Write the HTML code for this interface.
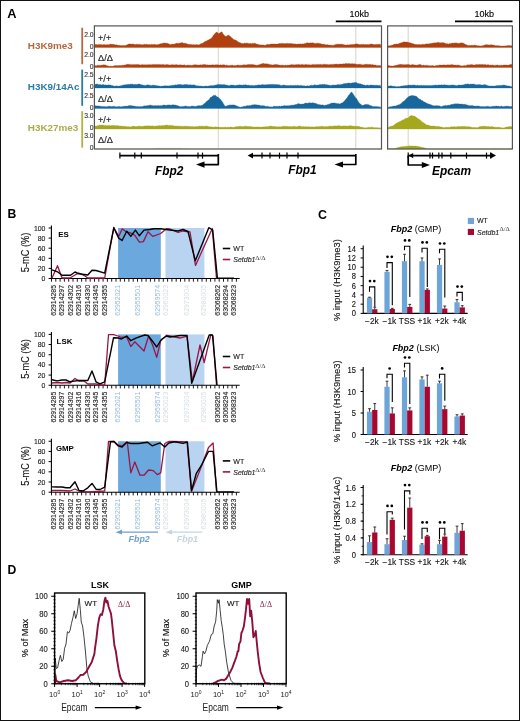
<!DOCTYPE html>
<html><head><meta charset="utf-8"><title>Figure</title><style>
html,body{margin:0;padding:0;background:#fff;}
body{width:520px;height:721px;overflow:hidden;position:relative;}
svg{display:block;position:absolute;left:0;top:0;font-family:"Liberation Sans", sans-serif;filter:blur(0.3px);}
.frame{position:absolute;left:0;top:0;width:518px;height:719px;border:1px solid #121212;}
</style></head><body>
<svg width="520" height="721" viewBox="0 0 520 721">
<rect x="0" y="0" width="520" height="721" fill="#fff"/>
<text x="7.20" y="17.50" font-size="12.8" fill="#000"  text-anchor="start" font-weight="bold" font-style="normal" >A</text>
<line x1="335.80" y1="21.40" x2="381.50" y2="21.40" stroke="#000" stroke-width="1.6" />
<text x="359.20" y="17.40" font-size="9" fill="#000" stroke="#000" stroke-width="0.12" text-anchor="middle" font-weight="normal" font-style="normal" >10kb</text>
<line x1="455.00" y1="21.40" x2="512.50" y2="21.40" stroke="#000" stroke-width="1.6" />
<text x="484.20" y="17.40" font-size="9" fill="#000" stroke="#000" stroke-width="0.12" text-anchor="middle" font-weight="normal" font-style="normal" >10kb</text>
<line x1="218.30" y1="26.50" x2="218.30" y2="148.50" stroke="#cfc8b8" stroke-width="0.8" />
<line x1="355.80" y1="26.50" x2="355.80" y2="148.50" stroke="#cfc8b8" stroke-width="0.8" />
<line x1="408.20" y1="26.50" x2="408.20" y2="148.50" stroke="#cfc8b8" stroke-width="0.8" />
<path d="M94.8,47.5 L94.8,44.3 L95.6,44.4 L96.4,44.5 L97.2,44.7 L98.0,44.7 L98.8,44.4 L99.6,44.4 L100.4,44.6 L101.2,44.5 L102.0,44.8 L102.8,44.8 L103.6,44.6 L104.4,44.6 L105.2,44.7 L106.0,44.8 L106.8,44.7 L107.6,44.4 L108.4,44.7 L109.2,44.4 L110.0,44.3 L110.8,44.1 L111.6,44.2 L112.4,44.2 L113.2,44.3 L114.0,44.5 L114.8,44.6 L115.6,45.0 L116.4,44.8 L117.2,44.9 L118.0,45.2 L118.8,45.3 L119.6,45.3 L120.4,45.5 L121.2,45.6 L122.0,45.6 L122.8,45.5 L123.6,45.4 L124.4,45.4 L125.2,45.4 L126.0,45.2 L126.8,45.0 L127.6,44.5 L128.4,44.1 L129.2,44.0 L130.0,43.9 L130.8,43.9 L131.6,44.2 L132.4,44.0 L133.2,44.0 L134.0,44.3 L134.8,44.5 L135.6,44.6 L136.4,44.2 L137.2,44.3 L138.0,44.4 L138.8,44.2 L139.6,44.3 L140.4,44.6 L141.2,44.7 L142.0,44.5 L142.8,44.7 L143.6,44.6 L144.4,44.3 L145.2,44.3 L146.0,44.4 L146.8,44.3 L147.6,44.6 L148.4,44.5 L149.2,44.4 L150.0,44.5 L150.8,44.7 L151.6,44.3 L152.4,44.4 L153.2,44.6 L154.0,44.5 L154.8,44.3 L155.6,44.6 L156.4,44.8 L157.2,44.7 L158.0,44.3 L158.8,44.4 L159.6,44.0 L160.4,43.8 L161.2,43.6 L162.0,43.7 L162.8,43.2 L163.6,43.0 L164.4,43.0 L165.2,43.2 L166.0,43.1 L166.8,43.2 L167.6,43.3 L168.4,43.7 L169.2,43.9 L170.0,44.4 L170.8,44.6 L171.6,44.2 L172.4,44.1 L173.2,44.3 L174.0,43.9 L174.8,44.0 L175.6,43.6 L176.4,43.3 L177.2,43.3 L178.0,43.3 L178.8,43.4 L179.6,42.9 L180.4,43.1 L181.2,42.8 L182.0,42.6 L182.8,42.8 L183.6,43.3 L184.4,43.2 L185.2,43.2 L186.0,43.5 L186.8,43.8 L187.6,44.1 L188.4,44.3 L189.2,44.5 L190.0,44.3 L190.8,44.4 L191.6,44.6 L192.4,44.8 L193.2,44.5 L194.0,44.7 L194.8,44.7 L195.6,44.8 L196.4,44.5 L197.2,44.4 L198.0,44.9 L198.8,44.8 L199.6,44.5 L200.4,43.9 L201.2,43.5 L202.0,43.4 L202.8,43.1 L203.6,42.5 L204.4,41.9 L205.2,41.3 L206.0,41.2 L206.8,40.7 L207.6,40.3 L208.4,40.1 L209.2,39.3 L210.0,39.2 L210.8,38.6 L211.6,38.0 L212.4,37.0 L213.2,35.4 L214.0,34.8 L214.8,33.6 L215.6,32.9 L216.4,32.1 L217.2,32.2 L218.0,33.3 L218.8,33.8 L219.6,32.9 L220.4,32.5 L221.2,32.0 L222.0,31.7 L222.8,33.4 L223.6,34.5 L224.4,35.5 L225.2,36.0 L226.0,36.4 L226.8,36.0 L227.6,35.6 L228.4,35.1 L229.2,35.4 L230.0,36.2 L230.8,36.8 L231.6,37.8 L232.4,38.3 L233.2,38.9 L234.0,39.5 L234.8,39.9 L235.6,39.9 L236.4,40.5 L237.2,40.9 L238.0,41.7 L238.8,42.3 L239.6,42.5 L240.4,42.7 L241.2,43.4 L242.0,43.2 L242.8,43.4 L243.6,43.5 L244.4,43.1 L245.2,43.3 L246.0,43.3 L246.8,43.0 L247.6,43.2 L248.4,43.5 L249.2,43.6 L250.0,43.6 L250.8,43.4 L251.6,43.7 L252.4,43.3 L253.2,43.5 L254.0,43.2 L254.8,43.2 L255.6,43.6 L256.4,44.0 L257.2,44.1 L258.0,44.4 L258.8,44.4 L259.6,44.8 L260.4,45.1 L261.2,44.8 L262.0,45.0 L262.8,45.0 L263.6,45.1 L264.4,45.2 L265.2,45.3 L266.0,44.9 L266.8,44.5 L267.6,44.3 L268.4,44.6 L269.2,44.6 L270.0,44.3 L270.8,43.9 L271.6,43.9 L272.4,43.9 L273.2,43.9 L274.0,44.1 L274.8,44.0 L275.6,44.0 L276.4,44.1 L277.2,44.1 L278.0,44.0 L278.8,43.5 L279.6,43.6 L280.4,43.5 L281.2,43.4 L282.0,43.2 L282.8,43.4 L283.6,43.5 L284.4,43.6 L285.2,43.7 L286.0,43.4 L286.8,43.2 L287.6,43.5 L288.4,43.6 L289.2,43.5 L290.0,43.5 L290.8,43.4 L291.6,43.6 L292.4,43.8 L293.2,43.8 L294.0,44.0 L294.8,43.8 L295.6,44.1 L296.4,44.2 L297.2,44.0 L298.0,44.1 L298.8,43.9 L299.6,44.0 L300.4,43.8 L301.2,44.1 L302.0,44.0 L302.8,43.7 L303.6,43.9 L304.4,43.4 L305.2,43.5 L306.0,43.2 L306.8,42.8 L307.6,42.7 L308.4,42.9 L309.2,43.1 L310.0,43.0 L310.8,42.7 L311.6,42.9 L312.4,42.7 L313.2,43.1 L314.0,42.9 L314.8,43.4 L315.6,43.5 L316.4,43.2 L317.2,43.2 L318.0,43.2 L318.8,43.3 L319.6,43.4 L320.4,43.6 L321.2,44.0 L322.0,44.0 L322.8,44.3 L323.6,44.2 L324.4,44.2 L325.2,44.5 L326.0,44.9 L326.8,44.6 L327.6,44.7 L328.4,44.9 L329.2,45.1 L330.0,45.0 L330.8,45.2 L331.6,45.3 L332.4,45.2 L333.2,45.2 L334.0,45.2 L334.8,44.7 L335.6,44.4 L336.4,44.2 L337.2,44.2 L338.0,44.1 L338.8,44.2 L339.6,44.3 L340.4,44.3 L341.2,44.1 L342.0,44.3 L342.8,44.5 L343.6,44.5 L344.4,44.8 L345.2,45.1 L346.0,45.0 L346.8,45.0 L347.6,44.8 L348.4,44.9 L349.2,44.7 L350.0,44.5 L350.8,44.7 L351.6,44.5 L352.4,44.4 L353.2,44.5 L354.0,44.3 L354.8,44.2 L355.6,43.9 L356.4,43.8 L357.2,44.1 L358.0,44.1 L358.8,44.4 L359.6,44.6 L360.4,44.5 L361.2,44.3 L362.0,44.6 L362.8,44.4 L363.6,44.3 L364.4,44.6 L365.2,44.5 L366.0,44.4 L366.8,44.6 L367.6,44.5 L368.4,44.4 L369.2,44.4 L370.0,44.2 L370.8,44.1 L371.6,44.0 L372.4,44.1 L373.2,44.4 L374.0,44.5 L374.8,44.6 L375.6,44.4 L376.4,44.2 L377.2,44.5 L378.0,44.3 L378.8,44.2 L379.6,44.3 L380.4,44.3 L381.2,47.5 Z" fill="#b0400f" stroke="#b0400f" stroke-width="0.3"/>
<path d="M388.0,47.5 L388.0,45.9 L388.8,45.8 L389.6,45.8 L390.4,45.6 L391.2,45.4 L392.0,45.1 L392.8,45.1 L393.6,44.5 L394.4,44.1 L395.2,44.3 L396.0,44.0 L396.8,43.9 L397.6,43.9 L398.4,43.8 L399.2,43.5 L400.0,43.1 L400.8,42.9 L401.6,42.6 L402.4,42.6 L403.2,42.1 L404.0,41.7 L404.8,42.0 L405.6,42.1 L406.4,42.0 L407.2,42.1 L408.0,42.3 L408.8,42.6 L409.6,42.7 L410.4,42.7 L411.2,43.2 L412.0,43.2 L412.8,43.7 L413.6,43.7 L414.4,44.2 L415.2,44.2 L416.0,44.5 L416.8,44.6 L417.6,44.6 L418.4,44.5 L419.2,44.5 L420.0,44.6 L420.8,44.7 L421.6,44.6 L422.4,44.3 L423.2,44.3 L424.0,44.6 L424.8,44.3 L425.6,44.1 L426.4,43.8 L427.2,44.0 L428.0,43.7 L428.8,43.9 L429.6,43.6 L430.4,43.5 L431.2,43.5 L432.0,42.9 L432.8,43.2 L433.6,43.0 L434.4,42.7 L435.2,42.8 L436.0,42.9 L436.8,42.5 L437.6,42.5 L438.4,42.3 L439.2,42.7 L440.0,42.7 L440.8,42.8 L441.6,42.5 L442.4,42.8 L443.2,42.6 L444.0,43.1 L444.8,43.0 L445.6,43.5 L446.4,43.7 L447.2,43.6 L448.0,44.0 L448.8,43.9 L449.6,43.5 L450.4,43.4 L451.2,43.5 L452.0,42.9 L452.8,43.1 L453.6,43.2 L454.4,43.1 L455.2,42.9 L456.0,42.8 L456.8,43.1 L457.6,43.2 L458.4,43.5 L459.2,43.3 L460.0,43.1 L460.8,42.9 L461.6,42.7 L462.4,42.9 L463.2,43.1 L464.0,43.5 L464.8,44.0 L465.6,44.6 L466.4,44.7 L467.2,45.1 L468.0,45.5 L468.8,45.5 L469.6,45.2 L470.4,45.5 L471.2,45.3 L472.0,45.3 L472.8,45.2 L473.6,45.4 L474.4,45.0 L475.2,45.3 L476.0,45.3 L476.8,45.5 L477.6,45.8 L478.4,45.7 L479.2,45.8 L480.0,45.9 L480.8,45.9 L481.6,45.8 L482.4,45.8 L483.2,45.4 L484.0,45.3 L484.8,44.9 L485.6,44.7 L486.4,44.5 L487.2,44.8 L488.0,44.8 L488.8,44.9 L489.6,44.9 L490.4,44.8 L491.2,44.7 L492.0,44.8 L492.8,45.1 L493.6,45.1 L494.4,45.2 L495.2,45.5 L496.0,45.7 L496.8,45.6 L497.6,45.8 L498.4,45.6 L499.2,45.8 L500.0,46.0 L500.8,46.0 L501.6,46.1 L502.4,46.1 L503.2,45.9 L504.0,45.9 L504.8,45.9 L505.6,45.8 L506.4,45.9 L507.2,45.6 L508.0,45.4 L508.8,45.4 L509.6,45.6 L510.4,45.7 L511.2,45.6 L512.0,45.9 L512.0,47.5 Z" fill="#b0400f" stroke="#b0400f" stroke-width="0.3"/>
<path d="M94.8,67.5 L94.8,65.5 L95.6,65.7 L96.4,65.7 L97.2,65.4 L98.0,65.1 L98.8,65.4 L99.6,65.2 L100.4,65.4 L101.2,65.1 L102.0,65.2 L102.8,64.9 L103.6,64.7 L104.4,64.9 L105.2,64.8 L106.0,65.3 L106.8,65.7 L107.6,65.7 L108.4,66.1 L109.2,66.3 L110.0,66.2 L110.8,66.0 L111.6,66.2 L112.4,66.3 L113.2,65.9 L114.0,66.0 L114.8,65.6 L115.6,65.5 L116.4,65.6 L117.2,65.7 L118.0,65.6 L118.8,65.5 L119.6,65.5 L120.4,65.5 L121.2,65.5 L122.0,65.2 L122.8,65.3 L123.6,65.2 L124.4,64.9 L125.2,64.9 L126.0,64.8 L126.8,64.3 L127.6,64.3 L128.4,64.3 L129.2,64.6 L130.0,64.5 L130.8,64.4 L131.6,64.7 L132.4,64.5 L133.2,64.5 L134.0,64.7 L134.8,64.6 L135.6,64.6 L136.4,64.5 L137.2,64.6 L138.0,64.5 L138.8,64.4 L139.6,64.8 L140.4,65.0 L141.2,64.7 L142.0,64.4 L142.8,64.7 L143.6,64.7 L144.4,64.7 L145.2,64.8 L146.0,64.8 L146.8,64.8 L147.6,64.8 L148.4,64.6 L149.2,64.7 L150.0,64.7 L150.8,64.5 L151.6,64.8 L152.4,64.6 L153.2,64.4 L154.0,64.5 L154.8,64.6 L155.6,64.4 L156.4,64.5 L157.2,64.6 L158.0,64.6 L158.8,64.4 L159.6,64.6 L160.4,64.6 L161.2,64.7 L162.0,64.4 L162.8,64.6 L163.6,64.4 L164.4,64.7 L165.2,64.8 L166.0,64.7 L166.8,64.5 L167.6,64.6 L168.4,64.8 L169.2,65.0 L170.0,64.8 L170.8,65.0 L171.6,64.7 L172.4,64.5 L173.2,64.8 L174.0,64.9 L174.8,64.7 L175.6,64.7 L176.4,64.6 L177.2,64.8 L178.0,65.0 L178.8,65.0 L179.6,64.7 L180.4,64.8 L181.2,64.9 L182.0,64.9 L182.8,64.9 L183.6,65.0 L184.4,64.8 L185.2,65.2 L186.0,65.5 L186.8,65.2 L187.6,65.1 L188.4,65.0 L189.2,65.3 L190.0,65.2 L190.8,65.1 L191.6,65.4 L192.4,65.2 L193.2,65.0 L194.0,64.8 L194.8,64.8 L195.6,64.8 L196.4,64.8 L197.2,64.9 L198.0,65.1 L198.8,64.9 L199.6,65.0 L200.4,64.7 L201.2,65.0 L202.0,64.7 L202.8,64.7 L203.6,64.6 L204.4,64.5 L205.2,64.5 L206.0,64.7 L206.8,65.1 L207.6,64.8 L208.4,65.1 L209.2,65.1 L210.0,64.9 L210.8,64.9 L211.6,64.9 L212.4,64.7 L213.2,64.7 L214.0,64.9 L214.8,65.0 L215.6,64.7 L216.4,64.8 L217.2,64.7 L218.0,64.8 L218.8,65.0 L219.6,65.0 L220.4,64.8 L221.2,65.1 L222.0,64.9 L222.8,64.8 L223.6,64.8 L224.4,64.8 L225.2,65.3 L226.0,65.2 L226.8,65.0 L227.6,65.4 L228.4,65.5 L229.2,65.5 L230.0,65.4 L230.8,65.3 L231.6,65.3 L232.4,65.1 L233.2,65.4 L234.0,65.6 L234.8,65.6 L235.6,65.6 L236.4,65.6 L237.2,65.1 L238.0,64.9 L238.8,65.2 L239.6,65.2 L240.4,65.2 L241.2,65.2 L242.0,65.2 L242.8,64.9 L243.6,64.8 L244.4,64.8 L245.2,64.9 L246.0,64.8 L246.8,64.9 L247.6,64.6 L248.4,64.4 L249.2,64.4 L250.0,64.6 L250.8,64.6 L251.6,64.6 L252.4,64.5 L253.2,64.5 L254.0,64.8 L254.8,64.9 L255.6,65.0 L256.4,65.2 L257.2,65.2 L258.0,65.1 L258.8,64.8 L259.6,64.6 L260.4,64.2 L261.2,63.9 L262.0,63.7 L262.8,63.5 L263.6,63.3 L264.4,63.7 L265.2,63.7 L266.0,63.9 L266.8,63.8 L267.6,63.8 L268.4,64.2 L269.2,64.2 L270.0,64.4 L270.8,64.8 L271.6,64.8 L272.4,65.1 L273.2,64.8 L274.0,64.7 L274.8,64.6 L275.6,64.6 L276.4,64.6 L277.2,64.6 L278.0,64.7 L278.8,65.1 L279.6,65.0 L280.4,65.2 L281.2,65.3 L282.0,65.0 L282.8,65.2 L283.6,65.3 L284.4,65.4 L285.2,65.0 L286.0,65.2 L286.8,65.4 L287.6,65.1 L288.4,65.3 L289.2,65.0 L290.0,64.9 L290.8,64.8 L291.6,64.6 L292.4,64.7 L293.2,64.6 L294.0,65.0 L294.8,64.7 L295.6,64.7 L296.4,64.5 L297.2,64.8 L298.0,64.5 L298.8,64.3 L299.6,64.7 L300.4,64.7 L301.2,64.6 L302.0,64.4 L302.8,64.6 L303.6,64.8 L304.4,64.8 L305.2,64.6 L306.0,64.5 L306.8,64.6 L307.6,64.7 L308.4,64.7 L309.2,64.7 L310.0,64.7 L310.8,64.9 L311.6,64.8 L312.4,64.4 L313.2,64.6 L314.0,64.5 L314.8,64.7 L315.6,64.6 L316.4,64.4 L317.2,64.4 L318.0,64.5 L318.8,64.5 L319.6,64.5 L320.4,64.3 L321.2,64.6 L322.0,64.7 L322.8,64.4 L323.6,64.2 L324.4,64.3 L325.2,64.4 L326.0,64.3 L326.8,64.5 L327.6,64.6 L328.4,64.7 L329.2,64.5 L330.0,64.6 L330.8,64.6 L331.6,64.4 L332.4,64.2 L333.2,64.4 L334.0,64.2 L334.8,64.3 L335.6,64.1 L336.4,64.1 L337.2,64.2 L338.0,64.2 L338.8,64.3 L339.6,64.1 L340.4,64.0 L341.2,64.1 L342.0,64.0 L342.8,64.0 L343.6,63.7 L344.4,63.9 L345.2,63.5 L346.0,63.6 L346.8,63.6 L347.6,63.7 L348.4,63.6 L349.2,63.5 L350.0,63.7 L350.8,63.8 L351.6,63.7 L352.4,63.6 L353.2,63.9 L354.0,63.8 L354.8,63.7 L355.6,64.0 L356.4,64.3 L357.2,64.5 L358.0,64.3 L358.8,64.3 L359.6,64.2 L360.4,64.2 L361.2,64.5 L362.0,64.7 L362.8,64.8 L363.6,64.8 L364.4,64.6 L365.2,64.3 L366.0,64.2 L366.8,64.4 L367.6,64.2 L368.4,64.4 L369.2,64.5 L370.0,64.3 L370.8,64.6 L371.6,64.8 L372.4,64.6 L373.2,64.8 L374.0,65.0 L374.8,65.0 L375.6,65.0 L376.4,65.4 L377.2,65.5 L378.0,65.5 L378.8,65.4 L379.6,65.5 L380.4,65.3 L381.2,67.5 Z" fill="#b0400f" stroke="#b0400f" stroke-width="0.3"/>
<path d="M388.0,67.5 L388.0,65.5 L388.8,65.5 L389.6,65.7 L390.4,65.9 L391.2,65.9 L392.0,65.9 L392.8,66.0 L393.6,65.9 L394.4,65.5 L395.2,65.6 L396.0,65.5 L396.8,65.1 L397.6,64.9 L398.4,64.7 L399.2,64.6 L400.0,64.6 L400.8,64.3 L401.6,64.5 L402.4,64.6 L403.2,64.7 L404.0,64.5 L404.8,64.7 L405.6,64.7 L406.4,64.5 L407.2,64.6 L408.0,64.6 L408.8,64.4 L409.6,64.7 L410.4,64.9 L411.2,64.9 L412.0,64.6 L412.8,64.6 L413.6,64.8 L414.4,64.9 L415.2,65.0 L416.0,65.0 L416.8,65.2 L417.6,64.9 L418.4,64.7 L419.2,64.5 L420.0,64.6 L420.8,64.6 L421.6,65.2 L422.4,65.4 L423.2,65.1 L424.0,65.2 L424.8,65.4 L425.6,65.2 L426.4,65.3 L427.2,65.2 L428.0,65.5 L428.8,65.7 L429.6,65.6 L430.4,65.8 L431.2,65.7 L432.0,65.4 L432.8,65.5 L433.6,65.8 L434.4,65.9 L435.2,65.8 L436.0,65.4 L436.8,65.4 L437.6,65.3 L438.4,65.4 L439.2,64.9 L440.0,64.9 L440.8,65.0 L441.6,65.1 L442.4,65.1 L443.2,65.1 L444.0,64.8 L444.8,65.0 L445.6,65.1 L446.4,64.9 L447.2,65.0 L448.0,64.6 L448.8,64.9 L449.6,64.9 L450.4,64.7 L451.2,64.8 L452.0,64.5 L452.8,64.7 L453.6,64.9 L454.4,64.9 L455.2,65.1 L456.0,65.1 L456.8,65.2 L457.6,65.0 L458.4,65.0 L459.2,65.2 L460.0,65.6 L460.8,65.8 L461.6,65.8 L462.4,65.9 L463.2,65.8 L464.0,65.4 L464.8,65.6 L465.6,65.7 L466.4,65.2 L467.2,65.1 L468.0,64.8 L468.8,64.9 L469.6,64.7 L470.4,64.7 L471.2,64.6 L472.0,64.6 L472.8,64.8 L473.6,65.0 L474.4,65.1 L475.2,64.8 L476.0,64.6 L476.8,64.4 L477.6,64.7 L478.4,64.6 L479.2,64.5 L480.0,64.5 L480.8,64.4 L481.6,64.5 L482.4,64.5 L483.2,64.5 L484.0,64.7 L484.8,64.5 L485.6,64.4 L486.4,64.9 L487.2,64.7 L488.0,64.7 L488.8,64.8 L489.6,65.2 L490.4,64.9 L491.2,65.2 L492.0,64.9 L492.8,64.9 L493.6,65.3 L494.4,65.4 L495.2,65.2 L496.0,65.2 L496.8,65.0 L497.6,64.9 L498.4,65.2 L499.2,65.5 L500.0,65.1 L500.8,65.4 L501.6,65.1 L502.4,65.4 L503.2,65.1 L504.0,65.0 L504.8,64.9 L505.6,65.1 L506.4,64.9 L507.2,65.2 L508.0,65.1 L508.8,65.1 L509.6,64.7 L510.4,64.5 L511.2,64.5 L512.0,64.5 L512.0,67.5 Z" fill="#b0400f" stroke="#b0400f" stroke-width="0.3"/>
<path d="M94.8,88.0 L94.8,84.5 L95.6,84.3 L96.4,84.1 L97.2,84.0 L98.0,84.4 L98.8,84.6 L99.6,84.6 L100.4,84.5 L101.2,84.9 L102.0,84.7 L102.8,84.6 L103.6,84.6 L104.4,85.1 L105.2,84.8 L106.0,85.1 L106.8,85.1 L107.6,85.0 L108.4,84.8 L109.2,85.0 L110.0,84.9 L110.8,85.1 L111.6,85.4 L112.4,85.6 L113.2,85.8 L114.0,86.1 L114.8,86.2 L115.6,86.0 L116.4,85.7 L117.2,86.1 L118.0,86.3 L118.8,85.9 L119.6,85.9 L120.4,85.8 L121.2,85.8 L122.0,85.5 L122.8,85.1 L123.6,84.9 L124.4,84.8 L125.2,84.9 L126.0,84.4 L126.8,84.6 L127.6,84.5 L128.4,84.3 L129.2,84.5 L130.0,84.3 L130.8,84.1 L131.6,84.2 L132.4,84.1 L133.2,84.5 L134.0,84.5 L134.8,84.6 L135.6,84.3 L136.4,84.4 L137.2,84.4 L138.0,84.1 L138.8,84.1 L139.6,84.1 L140.4,84.5 L141.2,84.7 L142.0,84.8 L142.8,85.0 L143.6,85.2 L144.4,85.2 L145.2,85.4 L146.0,85.3 L146.8,85.0 L147.6,84.8 L148.4,84.9 L149.2,85.0 L150.0,85.2 L150.8,85.4 L151.6,85.4 L152.4,85.2 L153.2,85.1 L154.0,85.3 L154.8,85.3 L155.6,85.4 L156.4,85.5 L157.2,85.7 L158.0,85.7 L158.8,86.0 L159.6,86.0 L160.4,86.2 L161.2,86.2 L162.0,86.0 L162.8,85.9 L163.6,86.1 L164.4,85.7 L165.2,85.7 L166.0,85.7 L166.8,86.0 L167.6,85.8 L168.4,85.9 L169.2,85.7 L170.0,85.7 L170.8,85.4 L171.6,85.4 L172.4,85.2 L173.2,85.3 L174.0,85.2 L174.8,85.0 L175.6,84.8 L176.4,85.0 L177.2,84.7 L178.0,84.6 L178.8,84.6 L179.6,84.5 L180.4,84.4 L181.2,84.6 L182.0,84.7 L182.8,84.9 L183.6,84.7 L184.4,84.5 L185.2,84.6 L186.0,84.6 L186.8,84.6 L187.6,84.6 L188.4,84.9 L189.2,84.7 L190.0,84.8 L190.8,84.8 L191.6,85.0 L192.4,84.9 L193.2,84.8 L194.0,84.9 L194.8,84.9 L195.6,85.4 L196.4,85.7 L197.2,85.8 L198.0,85.8 L198.8,86.1 L199.6,86.0 L200.4,85.9 L201.2,86.2 L202.0,86.1 L202.8,86.2 L203.6,86.3 L204.4,86.3 L205.2,86.1 L206.0,86.1 L206.8,86.1 L207.6,86.2 L208.4,85.9 L209.2,85.9 L210.0,85.7 L210.8,85.6 L211.6,85.7 L212.4,85.4 L213.2,85.6 L214.0,85.4 L214.8,85.2 L215.6,84.9 L216.4,84.9 L217.2,84.4 L218.0,84.4 L218.8,84.6 L219.6,84.4 L220.4,84.6 L221.2,84.5 L222.0,84.7 L222.8,84.7 L223.6,84.5 L224.4,84.6 L225.2,84.9 L226.0,84.9 L226.8,85.0 L227.6,85.3 L228.4,85.6 L229.2,85.4 L230.0,85.4 L230.8,85.1 L231.6,85.0 L232.4,85.1 L233.2,85.3 L234.0,85.0 L234.8,85.4 L235.6,85.5 L236.4,85.2 L237.2,85.1 L238.0,85.2 L238.8,85.0 L239.6,84.8 L240.4,84.9 L241.2,85.0 L242.0,85.1 L242.8,85.2 L243.6,84.8 L244.4,85.0 L245.2,84.8 L246.0,84.8 L246.8,85.0 L247.6,85.3 L248.4,85.1 L249.2,85.3 L250.0,85.4 L250.8,85.6 L251.6,85.3 L252.4,85.4 L253.2,85.5 L254.0,85.5 L254.8,85.6 L255.6,85.3 L256.4,85.3 L257.2,85.3 L258.0,84.9 L258.8,84.7 L259.6,85.0 L260.4,84.9 L261.2,84.9 L262.0,84.5 L262.8,84.4 L263.6,84.7 L264.4,84.8 L265.2,84.9 L266.0,84.5 L266.8,84.7 L267.6,84.5 L268.4,84.5 L269.2,84.4 L270.0,84.4 L270.8,84.2 L271.6,84.5 L272.4,84.3 L273.2,84.4 L274.0,84.4 L274.8,84.4 L275.6,84.5 L276.4,84.5 L277.2,84.5 L278.0,84.7 L278.8,84.7 L279.6,84.8 L280.4,85.2 L281.2,85.4 L282.0,85.4 L282.8,85.1 L283.6,84.9 L284.4,85.1 L285.2,85.5 L286.0,85.3 L286.8,85.5 L287.6,85.5 L288.4,85.4 L289.2,85.4 L290.0,85.5 L290.8,85.3 L291.6,85.5 L292.4,85.5 L293.2,85.3 L294.0,85.5 L294.8,85.5 L295.6,85.2 L296.4,85.5 L297.2,85.2 L298.0,85.2 L298.8,85.4 L299.6,85.6 L300.4,85.4 L301.2,85.3 L302.0,85.7 L302.8,85.7 L303.6,85.7 L304.4,85.8 L305.2,85.9 L306.0,86.1 L306.8,85.9 L307.6,85.6 L308.4,85.9 L309.2,85.9 L310.0,85.5 L310.8,85.3 L311.6,85.2 L312.4,85.5 L313.2,85.3 L314.0,85.0 L314.8,84.8 L315.6,84.9 L316.4,85.3 L317.2,85.0 L318.0,85.1 L318.8,84.9 L319.6,84.5 L320.4,84.4 L321.2,84.6 L322.0,84.6 L322.8,84.2 L323.6,84.5 L324.4,84.3 L325.2,84.4 L326.0,84.7 L326.8,84.6 L327.6,84.9 L328.4,85.1 L329.2,85.1 L330.0,85.4 L330.8,85.5 L331.6,85.3 L332.4,85.1 L333.2,84.9 L334.0,85.2 L334.8,85.1 L335.6,85.1 L336.4,84.9 L337.2,84.8 L338.0,84.4 L338.8,84.6 L339.6,84.8 L340.4,84.4 L341.2,84.5 L342.0,84.3 L342.8,84.1 L343.6,83.7 L344.4,83.6 L345.2,83.5 L346.0,83.5 L346.8,83.3 L347.6,83.3 L348.4,83.0 L349.2,83.0 L350.0,83.2 L350.8,83.2 L351.6,83.1 L352.4,82.8 L353.2,82.9 L354.0,82.6 L354.8,82.4 L355.6,82.6 L356.4,82.5 L357.2,83.0 L358.0,83.4 L358.8,83.4 L359.6,83.8 L360.4,83.8 L361.2,84.1 L362.0,84.5 L362.8,84.5 L363.6,85.0 L364.4,84.9 L365.2,85.3 L366.0,85.4 L366.8,85.0 L367.6,85.0 L368.4,85.2 L369.2,85.4 L370.0,85.0 L370.8,85.0 L371.6,84.9 L372.4,85.3 L373.2,85.1 L374.0,85.2 L374.8,85.3 L375.6,85.3 L376.4,85.2 L377.2,85.3 L378.0,85.3 L378.8,85.6 L379.6,85.3 L380.4,85.4 L381.2,88.0 Z" fill="#17669c" stroke="#17669c" stroke-width="0.3"/>
<path d="M388.0,88.0 L388.0,86.2 L388.8,86.0 L389.6,86.1 L390.4,85.8 L391.2,85.8 L392.0,86.0 L392.8,86.2 L393.6,86.2 L394.4,86.3 L395.2,86.2 L396.0,86.7 L396.8,86.7 L397.6,86.6 L398.4,86.6 L399.2,86.5 L400.0,86.6 L400.8,86.1 L401.6,86.0 L402.4,86.1 L403.2,85.8 L404.0,85.7 L404.8,85.7 L405.6,85.5 L406.4,85.6 L407.2,85.6 L408.0,85.1 L408.8,85.0 L409.6,85.3 L410.4,85.0 L411.2,85.2 L412.0,85.2 L412.8,84.9 L413.6,84.9 L414.4,85.1 L415.2,85.2 L416.0,85.3 L416.8,85.5 L417.6,85.1 L418.4,85.5 L419.2,85.5 L420.0,85.3 L420.8,85.5 L421.6,85.3 L422.4,85.6 L423.2,85.4 L424.0,85.3 L424.8,85.5 L425.6,85.4 L426.4,85.6 L427.2,85.5 L428.0,85.4 L428.8,85.5 L429.6,85.6 L430.4,85.4 L431.2,85.5 L432.0,85.6 L432.8,85.3 L433.6,85.3 L434.4,85.2 L435.2,84.9 L436.0,85.1 L436.8,85.2 L437.6,85.2 L438.4,84.9 L439.2,84.9 L440.0,85.0 L440.8,85.0 L441.6,84.7 L442.4,84.9 L443.2,85.0 L444.0,84.8 L444.8,84.8 L445.6,85.0 L446.4,85.0 L447.2,85.0 L448.0,85.2 L448.8,85.2 L449.6,85.2 L450.4,85.0 L451.2,85.2 L452.0,85.1 L452.8,84.9 L453.6,84.9 L454.4,85.2 L455.2,85.2 L456.0,85.4 L456.8,85.5 L457.6,85.4 L458.4,85.1 L459.2,84.9 L460.0,85.0 L460.8,85.2 L461.6,84.9 L462.4,84.9 L463.2,84.9 L464.0,84.4 L464.8,84.5 L465.6,84.1 L466.4,84.2 L467.2,83.9 L468.0,83.8 L468.8,84.2 L469.6,84.4 L470.4,84.0 L471.2,84.1 L472.0,84.2 L472.8,84.1 L473.6,84.1 L474.4,84.2 L475.2,84.4 L476.0,84.7 L476.8,84.7 L477.6,84.8 L478.4,84.6 L479.2,84.5 L480.0,84.8 L480.8,84.7 L481.6,84.9 L482.4,85.0 L483.2,84.8 L484.0,84.8 L484.8,84.6 L485.6,84.8 L486.4,84.9 L487.2,85.4 L488.0,85.4 L488.8,85.9 L489.6,86.0 L490.4,85.9 L491.2,85.9 L492.0,85.9 L492.8,86.1 L493.6,86.0 L494.4,85.9 L495.2,86.1 L496.0,85.8 L496.8,85.5 L497.6,85.6 L498.4,85.4 L499.2,85.4 L500.0,85.5 L500.8,85.2 L501.6,85.5 L502.4,85.2 L503.2,84.9 L504.0,85.3 L504.8,85.1 L505.6,85.6 L506.4,85.5 L507.2,85.9 L508.0,85.8 L508.8,86.1 L509.6,86.0 L510.4,86.5 L511.2,86.7 L512.0,86.4 L512.0,88.0 Z" fill="#17669c" stroke="#17669c" stroke-width="0.3"/>
<path d="M94.8,108.5 L94.8,105.6 L95.6,105.8 L96.4,105.9 L97.2,105.8 L98.0,106.1 L98.8,106.0 L99.6,106.1 L100.4,106.3 L101.2,106.5 L102.0,106.2 L102.8,106.5 L103.6,106.6 L104.4,106.6 L105.2,106.4 L106.0,106.7 L106.8,106.7 L107.6,106.6 L108.4,106.3 L109.2,106.2 L110.0,106.2 L110.8,106.5 L111.6,106.5 L112.4,106.6 L113.2,106.3 L114.0,106.2 L114.8,106.5 L115.6,106.7 L116.4,106.8 L117.2,106.8 L118.0,106.6 L118.8,106.5 L119.6,106.6 L120.4,106.8 L121.2,106.7 L122.0,106.6 L122.8,106.5 L123.6,106.2 L124.4,106.2 L125.2,106.2 L126.0,106.1 L126.8,106.0 L127.6,106.2 L128.4,105.8 L129.2,105.6 L130.0,105.5 L130.8,105.4 L131.6,105.7 L132.4,105.8 L133.2,106.0 L134.0,105.9 L134.8,106.2 L135.6,106.3 L136.4,106.4 L137.2,106.4 L138.0,106.4 L138.8,106.5 L139.6,106.7 L140.4,106.6 L141.2,106.6 L142.0,106.5 L142.8,106.5 L143.6,106.0 L144.4,105.8 L145.2,105.9 L146.0,105.8 L146.8,105.7 L147.6,105.5 L148.4,105.6 L149.2,105.2 L150.0,105.0 L150.8,105.2 L151.6,105.3 L152.4,105.5 L153.2,105.7 L154.0,105.6 L154.8,105.7 L155.6,105.4 L156.4,105.6 L157.2,105.8 L158.0,105.4 L158.8,105.4 L159.6,105.7 L160.4,105.6 L161.2,105.8 L162.0,105.6 L162.8,105.2 L163.6,105.0 L164.4,105.0 L165.2,105.2 L166.0,105.2 L166.8,105.3 L167.6,104.9 L168.4,104.9 L169.2,104.8 L170.0,105.0 L170.8,105.2 L171.6,105.0 L172.4,104.8 L173.2,104.8 L174.0,104.9 L174.8,104.9 L175.6,105.0 L176.4,105.3 L177.2,105.5 L178.0,105.7 L178.8,106.1 L179.6,106.4 L180.4,106.5 L181.2,106.7 L182.0,106.5 L182.8,106.3 L183.6,106.4 L184.4,106.2 L185.2,106.0 L186.0,105.9 L186.8,106.2 L187.6,106.4 L188.4,106.5 L189.2,106.5 L190.0,106.6 L190.8,106.4 L191.6,106.1 L192.4,106.0 L193.2,106.2 L194.0,106.2 L194.8,106.2 L195.6,106.4 L196.4,106.2 L197.2,105.9 L198.0,105.7 L198.8,105.6 L199.6,105.7 L200.4,105.8 L201.2,105.4 L202.0,105.3 L202.8,104.9 L203.6,104.1 L204.4,103.6 L205.2,102.9 L206.0,101.9 L206.8,101.1 L207.6,100.7 L208.4,100.1 L209.2,99.4 L210.0,98.1 L210.8,97.1 L211.6,97.0 L212.4,96.2 L213.2,95.5 L214.0,95.3 L214.8,95.4 L215.6,95.2 L216.4,96.2 L217.2,97.0 L218.0,97.0 L218.8,97.7 L219.6,98.6 L220.4,99.3 L221.2,100.5 L222.0,101.3 L222.8,102.5 L223.6,104.0 L224.4,105.2 L225.2,106.2 L226.0,106.3 L226.8,105.8 L227.6,105.5 L228.4,105.2 L229.2,105.2 L230.0,104.8 L230.8,104.9 L231.6,104.9 L232.4,104.9 L233.2,104.8 L234.0,105.1 L234.8,105.1 L235.6,105.5 L236.4,105.8 L237.2,106.1 L238.0,106.6 L238.8,106.8 L239.6,107.1 L240.4,107.3 L241.2,106.8 L242.0,106.9 L242.8,106.7 L243.6,106.3 L244.4,106.2 L245.2,106.2 L246.0,106.0 L246.8,105.8 L247.6,105.5 L248.4,105.7 L249.2,105.4 L250.0,105.4 L250.8,105.4 L251.6,104.9 L252.4,104.9 L253.2,104.8 L254.0,104.7 L254.8,104.6 L255.6,104.8 L256.4,104.8 L257.2,104.9 L258.0,105.0 L258.8,105.1 L259.6,105.3 L260.4,105.5 L261.2,105.7 L262.0,105.6 L262.8,105.8 L263.6,105.8 L264.4,105.8 L265.2,106.3 L266.0,106.4 L266.8,106.2 L267.6,106.2 L268.4,106.6 L269.2,106.8 L270.0,106.7 L270.8,106.9 L271.6,106.8 L272.4,106.9 L273.2,106.5 L274.0,106.3 L274.8,106.1 L275.6,106.4 L276.4,106.3 L277.2,106.2 L278.0,106.5 L278.8,106.3 L279.6,106.1 L280.4,106.4 L281.2,106.0 L282.0,106.1 L282.8,106.1 L283.6,105.7 L284.4,105.6 L285.2,105.8 L286.0,105.8 L286.8,105.7 L287.6,105.7 L288.4,105.7 L289.2,105.7 L290.0,105.3 L290.8,105.5 L291.6,105.2 L292.4,105.1 L293.2,105.2 L294.0,105.0 L294.8,104.7 L295.6,104.5 L296.4,104.5 L297.2,103.9 L298.0,103.7 L298.8,103.5 L299.6,103.9 L300.4,104.1 L301.2,104.3 L302.0,103.9 L302.8,103.9 L303.6,103.9 L304.4,103.6 L305.2,103.1 L306.0,102.9 L306.8,103.2 L307.6,103.3 L308.4,102.9 L309.2,102.8 L310.0,102.7 L310.8,103.0 L311.6,103.1 L312.4,102.7 L313.2,102.7 L314.0,103.2 L314.8,103.1 L315.6,103.4 L316.4,103.5 L317.2,104.2 L318.0,104.2 L318.8,104.7 L319.6,104.5 L320.4,104.7 L321.2,105.0 L322.0,105.0 L322.8,104.8 L323.6,105.2 L324.4,105.4 L325.2,105.2 L326.0,105.0 L326.8,104.9 L327.6,104.6 L328.4,104.4 L329.2,104.1 L330.0,103.7 L330.8,103.5 L331.6,103.0 L332.4,103.1 L333.2,102.9 L334.0,103.0 L334.8,102.9 L335.6,103.2 L336.4,103.3 L337.2,103.7 L338.0,103.5 L338.8,103.6 L339.6,104.0 L340.4,103.8 L341.2,103.1 L342.0,103.1 L342.8,102.4 L343.6,101.8 L344.4,101.1 L345.2,100.0 L346.0,99.1 L346.8,98.1 L347.6,96.9 L348.4,95.4 L349.2,94.7 L350.0,93.6 L350.8,92.6 L351.6,92.0 L352.4,93.0 L353.2,94.0 L354.0,95.3 L354.8,96.5 L355.6,97.7 L356.4,98.3 L357.2,99.7 L358.0,101.0 L358.8,102.4 L359.6,103.3 L360.4,104.0 L361.2,104.6 L362.0,105.4 L362.8,105.3 L363.6,105.1 L364.4,104.7 L365.2,104.6 L366.0,104.2 L366.8,104.5 L367.6,104.4 L368.4,104.4 L369.2,104.9 L370.0,105.4 L370.8,105.4 L371.6,105.9 L372.4,106.2 L373.2,106.5 L374.0,106.5 L374.8,106.4 L375.6,106.4 L376.4,106.6 L377.2,106.6 L378.0,106.8 L378.8,106.8 L379.6,106.9 L380.4,106.8 L381.2,108.5 Z" fill="#17669c" stroke="#17669c" stroke-width="0.3"/>
<path d="M388.0,108.5 L388.0,107.3 L388.8,107.3 L389.6,106.8 L390.4,106.7 L391.2,106.8 L392.0,106.4 L392.8,106.3 L393.6,106.1 L394.4,105.9 L395.2,106.1 L396.0,105.9 L396.8,105.3 L397.6,105.3 L398.4,104.8 L399.2,104.8 L400.0,104.3 L400.8,103.7 L401.6,102.9 L402.4,102.1 L403.2,101.5 L404.0,101.0 L404.8,100.4 L405.6,99.4 L406.4,98.5 L407.2,98.1 L408.0,97.1 L408.8,96.6 L409.6,96.0 L410.4,95.9 L411.2,95.6 L412.0,95.5 L412.8,95.6 L413.6,95.8 L414.4,95.8 L415.2,96.0 L416.0,96.2 L416.8,96.5 L417.6,97.6 L418.4,98.2 L419.2,99.0 L420.0,99.2 L420.8,99.4 L421.6,100.4 L422.4,100.6 L423.2,101.3 L424.0,102.0 L424.8,102.0 L425.6,102.6 L426.4,103.1 L427.2,103.4 L428.0,103.8 L428.8,104.0 L429.6,104.3 L430.4,104.6 L431.2,104.8 L432.0,105.2 L432.8,105.5 L433.6,105.7 L434.4,105.8 L435.2,105.7 L436.0,105.8 L436.8,105.6 L437.6,105.8 L438.4,105.8 L439.2,105.7 L440.0,106.2 L440.8,106.4 L441.6,106.4 L442.4,106.2 L443.2,105.9 L444.0,105.6 L444.8,105.7 L445.6,105.3 L446.4,105.7 L447.2,105.3 L448.0,105.5 L448.8,105.1 L449.6,105.3 L450.4,104.8 L451.2,104.6 L452.0,104.3 L452.8,104.2 L453.6,104.3 L454.4,103.8 L455.2,103.7 L456.0,103.9 L456.8,103.7 L457.6,103.7 L458.4,103.7 L459.2,104.0 L460.0,104.1 L460.8,103.9 L461.6,104.0 L462.4,104.2 L463.2,104.3 L464.0,104.2 L464.8,104.2 L465.6,104.5 L466.4,104.7 L467.2,104.9 L468.0,105.2 L468.8,105.4 L469.6,105.4 L470.4,105.7 L471.2,105.5 L472.0,105.4 L472.8,105.5 L473.6,105.9 L474.4,106.0 L475.2,106.0 L476.0,106.3 L476.8,105.9 L477.6,105.9 L478.4,106.1 L479.2,106.1 L480.0,106.4 L480.8,106.6 L481.6,106.5 L482.4,106.4 L483.2,106.4 L484.0,106.8 L484.8,106.6 L485.6,106.4 L486.4,106.4 L487.2,106.3 L488.0,106.3 L488.8,106.6 L489.6,106.8 L490.4,106.7 L491.2,106.4 L492.0,106.6 L492.8,106.3 L493.6,106.2 L494.4,106.3 L495.2,106.2 L496.0,106.0 L496.8,106.0 L497.6,106.3 L498.4,106.1 L499.2,106.4 L500.0,106.5 L500.8,106.2 L501.6,106.1 L502.4,106.4 L503.2,106.5 L504.0,106.4 L504.8,106.3 L505.6,106.3 L506.4,106.1 L507.2,106.2 L508.0,106.2 L508.8,106.3 L509.6,106.5 L510.4,106.5 L511.2,106.5 L512.0,106.5 L512.0,108.5 Z" fill="#17669c" stroke="#17669c" stroke-width="0.3"/>
<path d="M94.8,129.0 L94.8,126.1 L95.6,125.9 L96.4,126.0 L97.2,125.8 L98.0,125.5 L98.8,125.3 L99.6,125.0 L100.4,125.2 L101.2,125.1 L102.0,125.0 L102.8,125.1 L103.6,125.3 L104.4,125.5 L105.2,125.3 L106.0,125.4 L106.8,125.8 L107.6,125.5 L108.4,125.6 L109.2,125.5 L110.0,125.5 L110.8,125.4 L111.6,125.4 L112.4,125.5 L113.2,125.3 L114.0,125.5 L114.8,125.4 L115.6,125.7 L116.4,125.6 L117.2,125.5 L118.0,125.7 L118.8,125.7 L119.6,126.0 L120.4,125.9 L121.2,126.0 L122.0,126.2 L122.8,125.9 L123.6,126.2 L124.4,126.3 L125.2,126.2 L126.0,126.4 L126.8,126.4 L127.6,126.7 L128.4,126.5 L129.2,126.7 L130.0,126.9 L130.8,126.5 L131.6,126.7 L132.4,126.3 L133.2,126.1 L134.0,126.1 L134.8,126.4 L135.6,126.5 L136.4,126.5 L137.2,126.4 L138.0,126.2 L138.8,126.0 L139.6,126.2 L140.4,126.3 L141.2,126.2 L142.0,126.3 L142.8,126.4 L143.6,126.1 L144.4,125.9 L145.2,126.1 L146.0,126.0 L146.8,125.8 L147.6,125.7 L148.4,125.9 L149.2,125.7 L150.0,126.0 L150.8,125.9 L151.6,125.9 L152.4,125.8 L153.2,125.9 L154.0,126.2 L154.8,126.3 L155.6,126.0 L156.4,126.0 L157.2,125.8 L158.0,125.9 L158.8,125.5 L159.6,125.6 L160.4,125.8 L161.2,125.7 L162.0,125.6 L162.8,125.4 L163.6,125.4 L164.4,125.5 L165.2,125.3 L166.0,125.0 L166.8,125.1 L167.6,125.0 L168.4,125.4 L169.2,125.2 L170.0,125.2 L170.8,125.4 L171.6,125.5 L172.4,125.6 L173.2,125.5 L174.0,125.9 L174.8,125.9 L175.6,125.9 L176.4,126.1 L177.2,126.0 L178.0,125.9 L178.8,126.2 L179.6,126.1 L180.4,126.2 L181.2,126.2 L182.0,126.1 L182.8,126.4 L183.6,126.2 L184.4,126.3 L185.2,126.1 L186.0,126.3 L186.8,126.2 L187.6,126.2 L188.4,126.2 L189.2,126.2 L190.0,126.6 L190.8,126.5 L191.6,126.5 L192.4,126.4 L193.2,126.5 L194.0,126.7 L194.8,126.7 L195.6,126.5 L196.4,126.5 L197.2,126.5 L198.0,126.4 L198.8,126.2 L199.6,126.1 L200.4,126.3 L201.2,126.1 L202.0,126.2 L202.8,126.1 L203.6,126.4 L204.4,126.2 L205.2,126.2 L206.0,126.1 L206.8,126.1 L207.6,126.2 L208.4,126.6 L209.2,126.7 L210.0,126.8 L210.8,126.7 L211.6,126.9 L212.4,127.0 L213.2,127.1 L214.0,127.2 L214.8,126.9 L215.6,126.8 L216.4,127.0 L217.2,126.9 L218.0,127.1 L218.8,127.1 L219.6,127.2 L220.4,127.2 L221.2,127.3 L222.0,127.3 L222.8,127.2 L223.6,127.3 L224.4,127.2 L225.2,126.9 L226.0,127.2 L226.8,127.4 L227.6,127.1 L228.4,127.3 L229.2,127.3 L230.0,127.0 L230.8,127.0 L231.6,127.1 L232.4,127.3 L233.2,127.3 L234.0,127.2 L234.8,126.9 L235.6,126.7 L236.4,126.7 L237.2,126.6 L238.0,126.5 L238.8,126.4 L239.6,126.3 L240.4,126.2 L241.2,126.5 L242.0,126.6 L242.8,126.6 L243.6,126.4 L244.4,126.3 L245.2,126.4 L246.0,126.1 L246.8,126.2 L247.6,126.4 L248.4,126.5 L249.2,126.5 L250.0,126.5 L250.8,126.5 L251.6,126.7 L252.4,126.9 L253.2,126.8 L254.0,126.9 L254.8,127.0 L255.6,126.9 L256.4,127.0 L257.2,126.9 L258.0,126.8 L258.8,127.1 L259.6,127.0 L260.4,127.1 L261.2,127.1 L262.0,127.0 L262.8,126.9 L263.6,126.7 L264.4,126.7 L265.2,126.8 L266.0,126.7 L266.8,126.6 L267.6,126.7 L268.4,126.5 L269.2,126.3 L270.0,126.1 L270.8,126.2 L271.6,126.1 L272.4,126.2 L273.2,126.5 L274.0,126.3 L274.8,126.5 L275.6,126.5 L276.4,126.7 L277.2,126.9 L278.0,126.5 L278.8,126.7 L279.6,126.8 L280.4,126.8 L281.2,126.8 L282.0,126.5 L282.8,126.2 L283.6,126.2 L284.4,126.3 L285.2,126.2 L286.0,126.3 L286.8,126.5 L287.6,126.3 L288.4,126.4 L289.2,126.6 L290.0,126.6 L290.8,126.6 L291.6,126.7 L292.4,126.5 L293.2,126.3 L294.0,126.3 L294.8,126.6 L295.6,126.4 L296.4,126.7 L297.2,126.5 L298.0,126.3 L298.8,126.3 L299.6,126.1 L300.4,126.1 L301.2,126.4 L302.0,126.7 L302.8,126.6 L303.6,126.5 L304.4,126.7 L305.2,126.7 L306.0,126.6 L306.8,126.7 L307.6,126.7 L308.4,126.7 L309.2,126.5 L310.0,126.9 L310.8,127.0 L311.6,126.8 L312.4,126.7 L313.2,126.9 L314.0,126.9 L314.8,126.9 L315.6,126.7 L316.4,126.4 L317.2,126.6 L318.0,126.7 L318.8,126.6 L319.6,126.6 L320.4,126.5 L321.2,126.3 L322.0,126.2 L322.8,126.3 L323.6,126.4 L324.4,126.7 L325.2,126.4 L326.0,126.5 L326.8,126.5 L327.6,126.4 L328.4,126.2 L329.2,126.3 L330.0,126.1 L330.8,126.0 L331.6,126.3 L332.4,126.3 L333.2,126.0 L334.0,125.9 L334.8,125.8 L335.6,126.0 L336.4,126.0 L337.2,125.8 L338.0,125.8 L338.8,125.8 L339.6,125.6 L340.4,126.0 L341.2,126.2 L342.0,125.9 L342.8,125.8 L343.6,126.0 L344.4,125.8 L345.2,125.9 L346.0,126.0 L346.8,126.0 L347.6,126.1 L348.4,126.0 L349.2,125.7 L350.0,125.7 L350.8,125.5 L351.6,125.9 L352.4,126.1 L353.2,126.2 L354.0,126.1 L354.8,126.3 L355.6,126.2 L356.4,126.3 L357.2,126.3 L358.0,126.3 L358.8,126.4 L359.6,126.5 L360.4,127.0 L361.2,127.2 L362.0,127.1 L362.8,127.4 L363.6,127.6 L364.4,127.7 L365.2,127.9 L366.0,127.6 L366.8,127.5 L367.6,127.7 L368.4,127.3 L369.2,127.3 L370.0,127.4 L370.8,127.3 L371.6,127.1 L372.4,127.3 L373.2,127.6 L374.0,127.6 L374.8,127.8 L375.6,127.6 L376.4,127.7 L377.2,127.5 L378.0,127.7 L378.8,127.9 L379.6,127.8 L380.4,127.8 L381.2,129.0 Z" fill="#a5a71c" stroke="#a5a71c" stroke-width="0.3"/>
<path d="M388.0,129.0 L388.0,127.3 L388.8,127.2 L389.6,126.8 L390.4,126.3 L391.2,126.2 L392.0,126.0 L392.8,125.7 L393.6,125.4 L394.4,124.8 L395.2,124.0 L396.0,123.5 L396.8,123.0 L397.6,122.4 L398.4,122.3 L399.2,121.8 L400.0,121.4 L400.8,120.9 L401.6,120.7 L402.4,119.9 L403.2,119.8 L404.0,119.6 L404.8,118.9 L405.6,118.3 L406.4,118.2 L407.2,118.1 L408.0,118.0 L408.8,117.3 L409.6,116.3 L410.4,115.8 L411.2,115.4 L412.0,115.5 L412.8,116.0 L413.6,116.0 L414.4,116.1 L415.2,116.5 L416.0,117.1 L416.8,117.8 L417.6,118.3 L418.4,119.1 L419.2,119.2 L420.0,119.7 L420.8,120.5 L421.6,121.4 L422.4,121.9 L423.2,122.5 L424.0,123.1 L424.8,123.5 L425.6,124.2 L426.4,124.8 L427.2,125.0 L428.0,125.0 L428.8,125.3 L429.6,125.6 L430.4,126.0 L431.2,126.0 L432.0,126.0 L432.8,126.0 L433.6,126.1 L434.4,126.1 L435.2,126.2 L436.0,126.2 L436.8,126.5 L437.6,126.5 L438.4,126.2 L439.2,126.4 L440.0,126.8 L440.8,127.0 L441.6,126.9 L442.4,127.2 L443.2,127.4 L444.0,127.5 L444.8,127.5 L445.6,127.2 L446.4,127.3 L447.2,127.3 L448.0,127.3 L448.8,127.3 L449.6,127.2 L450.4,127.0 L451.2,126.8 L452.0,126.7 L452.8,126.8 L453.6,126.7 L454.4,126.5 L455.2,126.8 L456.0,126.9 L456.8,126.8 L457.6,126.6 L458.4,126.6 L459.2,126.6 L460.0,126.5 L460.8,126.6 L461.6,126.5 L462.4,126.3 L463.2,126.5 L464.0,126.4 L464.8,126.4 L465.6,126.3 L466.4,126.8 L467.2,126.6 L468.0,126.7 L468.8,126.6 L469.6,126.7 L470.4,127.1 L471.2,127.1 L472.0,127.5 L472.8,127.4 L473.6,127.2 L474.4,127.5 L475.2,127.5 L476.0,127.6 L476.8,127.5 L477.6,127.4 L478.4,127.3 L479.2,126.8 L480.0,126.5 L480.8,126.5 L481.6,126.3 L482.4,126.2 L483.2,126.3 L484.0,126.3 L484.8,126.3 L485.6,126.3 L486.4,126.5 L487.2,126.6 L488.0,126.6 L488.8,126.6 L489.6,126.8 L490.4,126.8 L491.2,126.6 L492.0,126.6 L492.8,126.7 L493.6,127.0 L494.4,127.0 L495.2,127.2 L496.0,127.3 L496.8,127.2 L497.6,127.2 L498.4,127.1 L499.2,127.2 L500.0,127.5 L500.8,127.6 L501.6,127.7 L502.4,127.8 L503.2,127.9 L504.0,127.8 L504.8,127.6 L505.6,127.2 L506.4,127.0 L507.2,126.9 L508.0,126.7 L508.8,126.7 L509.6,126.6 L510.4,126.6 L511.2,126.6 L512.0,126.9 L512.0,129.0 Z" fill="#a5a71c" stroke="#a5a71c" stroke-width="0.3"/>
<path d="M388.0,149.0 L388.0,148.9 L388.8,148.7 L389.6,148.7 L390.4,148.7 L391.2,148.7 L392.0,148.8 L392.8,148.8 L393.6,148.8 L394.4,148.6 L395.2,148.5 L396.0,148.1 L396.8,148.0 L397.6,147.6 L398.4,147.3 L399.2,147.3 L400.0,147.1 L400.8,146.8 L401.6,146.8 L402.4,146.5 L403.2,146.5 L404.0,146.6 L404.8,146.4 L405.6,146.2 L406.4,146.2 L407.2,146.3 L408.0,146.2 L408.8,145.9 L409.6,145.8 L410.4,146.0 L411.2,146.0 L412.0,146.0 L412.8,146.1 L413.6,145.9 L414.4,146.1 L415.2,146.1 L416.0,146.1 L416.8,146.2 L417.6,146.2 L418.4,146.4 L419.2,146.5 L420.0,146.9 L420.8,147.0 L421.6,147.3 L422.4,147.5 L423.2,147.5 L424.0,147.7 L424.8,148.0 L425.6,148.2 L426.4,148.5 L427.2,148.8 L428.0,148.9 L428.8,148.9 L429.6,149.0 L430.4,148.9 L431.2,149.0 L432.0,149.0 L432.8,149.0 L433.6,149.0 L434.4,149.0 L435.2,149.0 L436.0,149.0 L436.8,149.0 L437.6,149.0 L438.4,149.0 L439.2,149.0 L440.0,149.0 L440.8,148.9 L441.6,148.9 L442.4,149.0 L443.2,148.9 L444.0,149.0 L444.8,149.0 L445.6,148.9 L446.4,148.9 L447.2,149.0 L448.0,149.0 L448.8,149.0 L449.6,148.9 L450.4,149.0 L451.2,148.9 L452.0,148.8 L452.8,148.9 L453.6,149.0 L454.4,149.0 L455.2,149.0 L456.0,149.0 L456.8,149.0 L457.6,149.0 L458.4,149.0 L459.2,148.9 L460.0,148.9 L460.8,149.0 L461.6,149.0 L462.4,149.0 L463.2,149.0 L464.0,149.0 L464.8,149.0 L465.6,148.9 L466.4,148.9 L467.2,149.0 L468.0,148.9 L468.8,149.0 L469.6,149.0 L470.4,149.0 L471.2,149.0 L472.0,149.0 L472.8,149.0 L473.6,149.0 L474.4,149.0 L475.2,149.0 L476.0,149.0 L476.8,148.9 L477.6,148.8 L478.4,148.9 L479.2,148.9 L480.0,148.9 L480.8,149.0 L481.6,149.0 L482.4,149.0 L483.2,149.0 L484.0,148.9 L484.8,148.8 L485.6,149.0 L486.4,149.0 L487.2,149.0 L488.0,148.9 L488.8,149.0 L489.6,148.9 L490.4,149.0 L491.2,149.0 L492.0,148.9 L492.8,148.8 L493.6,148.9 L494.4,148.9 L495.2,148.8 L496.0,148.8 L496.8,148.9 L497.6,148.9 L498.4,148.8 L499.2,148.8 L500.0,148.9 L500.8,148.9 L501.6,148.8 L502.4,148.9 L503.2,148.9 L504.0,149.0 L504.8,149.0 L505.6,149.0 L506.4,149.0 L507.2,149.0 L508.0,148.9 L508.8,148.8 L509.6,148.8 L510.4,149.0 L511.2,148.9 L512.0,148.9 L512.0,149.0 Z" fill="#a5a71c" stroke="#a5a71c" stroke-width="0.3"/>
<path d="M94.8,149.0 L94.8,149.0 L95.6,149.0 L96.4,149.0 L97.2,149.0 L98.0,149.0 L98.8,149.0 L99.6,149.0 L100.4,149.0 L101.2,149.0 L102.0,149.0 L102.8,149.0 L103.6,148.9 L104.4,149.0 L105.2,148.9 L106.0,149.0 L106.8,148.9 L107.6,149.0 L108.4,149.0 L109.2,149.0 L110.0,148.9 L110.8,149.0 L111.6,149.0 L112.4,149.0 L113.2,149.0 L114.0,149.0 L114.8,149.0 L115.6,149.0 L116.4,149.0 L117.2,148.9 L118.0,148.9 L118.8,148.9 L119.6,149.0 L120.4,149.0 L121.2,149.0 L122.0,148.9 L122.8,148.9 L123.6,149.0 L124.4,149.0 L125.2,149.0 L126.0,149.0 L126.8,149.0 L127.6,148.9 L128.4,148.9 L129.2,149.0 L130.0,149.0 L130.8,148.9 L131.6,149.0 L132.4,148.9 L133.2,149.0 L134.0,148.9 L134.8,148.9 L135.6,149.0 L136.4,149.0 L137.2,149.0 L138.0,149.0 L138.8,149.0 L139.6,149.0 L140.4,148.9 L141.2,149.0 L142.0,149.0 L142.8,149.0 L143.6,148.9 L144.4,148.9 L145.2,148.9 L146.0,148.9 L146.8,148.9 L147.6,148.9 L148.4,149.0 L149.2,149.0 L150.0,148.9 L150.8,148.8 L151.6,148.8 L152.4,148.8 L153.2,148.8 L154.0,148.6 L154.8,148.6 L155.6,148.6 L156.4,148.5 L157.2,148.3 L158.0,148.3 L158.8,148.2 L159.6,148.1 L160.4,148.1 L161.2,148.1 L162.0,148.2 L162.8,148.3 L163.6,148.3 L164.4,148.3 L165.2,148.1 L166.0,148.1 L166.8,148.2 L167.6,148.2 L168.4,148.3 L169.2,148.2 L170.0,148.2 L170.8,148.2 L171.6,148.3 L172.4,148.2 L173.2,148.3 L174.0,148.2 L174.8,148.3 L175.6,148.3 L176.4,148.3 L177.2,148.2 L178.0,148.2 L178.8,148.1 L179.6,148.1 L180.4,148.2 L181.2,148.4 L182.0,148.4 L182.8,148.5 L183.6,148.6 L184.4,148.6 L185.2,148.7 L186.0,148.8 L186.8,148.8 L187.6,148.8 L188.4,148.9 L189.2,149.0 L190.0,149.0 L190.8,149.0 L191.6,149.0 L192.4,149.0 L193.2,149.0 L194.0,149.0 L194.8,149.0 L195.6,149.0 L196.4,149.0 L197.2,149.0 L198.0,148.9 L198.8,149.0 L199.6,149.0 L200.4,148.9 L201.2,148.9 L202.0,149.0 L202.8,149.0 L203.6,148.9 L204.4,149.0 L205.2,149.0 L206.0,148.9 L206.8,148.9 L207.6,148.9 L208.4,148.9 L209.2,149.0 L210.0,149.0 L210.8,149.0 L211.6,149.0 L212.4,149.0 L213.2,149.0 L214.0,149.0 L214.8,149.0 L215.6,149.0 L216.4,149.0 L217.2,149.0 L218.0,149.0 L218.8,149.0 L219.6,148.9 L220.4,148.9 L221.2,149.0 L222.0,148.9 L222.8,148.9 L223.6,149.0 L224.4,149.0 L225.2,149.0 L226.0,148.9 L226.8,148.9 L227.6,148.9 L228.4,149.0 L229.2,149.0 L230.0,149.0 L230.8,149.0 L231.6,149.0 L232.4,149.0 L233.2,149.0 L234.0,149.0 L234.8,149.0 L235.6,149.0 L236.4,149.0 L237.2,149.0 L238.0,149.0 L238.8,149.0 L239.6,149.0 L240.4,148.9 L241.2,148.9 L242.0,149.0 L242.8,148.9 L243.6,149.0 L244.4,149.0 L245.2,149.0 L246.0,148.9 L246.8,149.0 L247.6,148.9 L248.4,149.0 L249.2,149.0 L250.0,149.0 L250.8,149.0 L251.6,149.0 L252.4,149.0 L253.2,149.0 L254.0,149.0 L254.8,149.0 L255.6,149.0 L256.4,149.0 L257.2,149.0 L258.0,149.0 L258.8,149.0 L259.6,149.0 L260.4,149.0 L261.2,149.0 L262.0,149.0 L262.8,148.9 L263.6,149.0 L264.4,149.0 L265.2,149.0 L266.0,149.0 L266.8,149.0 L267.6,149.0 L268.4,149.0 L269.2,149.0 L270.0,149.0 L270.8,148.9 L271.6,149.0 L272.4,148.9 L273.2,148.9 L274.0,148.9 L274.8,148.9 L275.6,149.0 L276.4,149.0 L277.2,149.0 L278.0,148.9 L278.8,148.9 L279.6,149.0 L280.4,149.0 L281.2,149.0 L282.0,149.0 L282.8,149.0 L283.6,149.0 L284.4,149.0 L285.2,149.0 L286.0,149.0 L286.8,149.0 L287.6,148.9 L288.4,148.9 L289.2,148.9 L290.0,148.9 L290.8,149.0 L291.6,149.0 L292.4,148.9 L293.2,149.0 L294.0,149.0 L294.8,149.0 L295.6,149.0 L296.4,149.0 L297.2,149.0 L298.0,149.0 L298.8,149.0 L299.6,149.0 L300.4,148.9 L301.2,148.9 L302.0,148.9 L302.8,148.9 L303.6,149.0 L304.4,149.0 L305.2,148.9 L306.0,148.9 L306.8,148.9 L307.6,149.0 L308.4,149.0 L309.2,149.0 L310.0,149.0 L310.8,148.9 L311.6,148.9 L312.4,149.0 L313.2,149.0 L314.0,148.9 L314.8,148.9 L315.6,148.9 L316.4,149.0 L317.2,149.0 L318.0,149.0 L318.8,149.0 L319.6,149.0 L320.4,149.0 L321.2,149.0 L322.0,149.0 L322.8,149.0 L323.6,148.9 L324.4,148.9 L325.2,149.0 L326.0,149.0 L326.8,149.0 L327.6,149.0 L328.4,149.0 L329.2,149.0 L330.0,149.0 L330.8,149.0 L331.6,149.0 L332.4,149.0 L333.2,149.0 L334.0,149.0 L334.8,148.9 L335.6,149.0 L336.4,149.0 L337.2,149.0 L338.0,149.0 L338.8,149.0 L339.6,149.0 L340.4,149.0 L341.2,149.0 L342.0,149.0 L342.8,148.9 L343.6,149.0 L344.4,149.0 L345.2,149.0 L346.0,149.0 L346.8,149.0 L347.6,149.0 L348.4,149.0 L349.2,149.0 L350.0,149.0 L350.8,149.0 L351.6,149.0 L352.4,148.9 L353.2,148.9 L354.0,149.0 L354.8,149.0 L355.6,149.0 L356.4,149.0 L357.2,149.0 L358.0,149.0 L358.8,149.0 L359.6,149.0 L360.4,149.0 L361.2,149.0 L362.0,148.9 L362.8,149.0 L363.6,148.9 L364.4,149.0 L365.2,149.0 L366.0,149.0 L366.8,149.0 L367.6,148.9 L368.4,149.0 L369.2,149.0 L370.0,149.0 L370.8,149.0 L371.6,149.0 L372.4,149.0 L373.2,148.9 L374.0,149.0 L374.8,149.0 L375.6,149.0 L376.4,149.0 L377.2,148.9 L378.0,149.0 L378.8,148.9 L379.6,148.9 L380.4,149.0 L381.2,149.0 Z" fill="#d7d89a" stroke="#d7d89a" stroke-width="0.3"/>
<rect x="94.40" y="25.90" width="287.10" height="123.10" fill="none" stroke="#555" stroke-width="1.2"/>
<rect x="387.60" y="25.90" width="124.80" height="123.10" fill="none" stroke="#555" stroke-width="1.2"/>
<line x1="82.20" y1="27.70" x2="82.20" y2="64.20" stroke="#b86a40" stroke-width="1.8" />
<line x1="82.20" y1="69.60" x2="82.20" y2="105.80" stroke="#2a7aa8" stroke-width="1.8" />
<line x1="82.20" y1="111.20" x2="82.20" y2="147.70" stroke="#b5b040" stroke-width="1.8" />
<text x="27.80" y="48.80" font-size="9.9" fill="#b8653c"  text-anchor="start" font-weight="bold" font-style="normal" >H3K9me3</text>
<text x="27.80" y="90.00" font-size="9.9" fill="#2a7ba6"  text-anchor="start" font-weight="bold" font-style="normal" >H3K9/14Ac</text>
<text x="27.80" y="131.20" font-size="9.9" fill="#abab4a"  text-anchor="start" font-weight="bold" font-style="normal" >H3K27me3</text>
<text x="93.60" y="36.90" font-size="6.8" fill="#333" stroke="#333" stroke-width="0.12" text-anchor="end" font-weight="normal" font-style="normal" >2.0</text>
<text x="93.60" y="48.80" font-size="6.8" fill="#333" stroke="#333" stroke-width="0.12" text-anchor="end" font-weight="normal" font-style="normal" >0</text>
<text x="98.00" y="41.30" font-size="9.2" fill="#1a1a1a" stroke="#1a1a1a" stroke-width="0.12" text-anchor="start" font-weight="normal" font-style="normal" >+/+</text>
<text x="93.60" y="56.90" font-size="6.8" fill="#333" stroke="#333" stroke-width="0.12" text-anchor="end" font-weight="normal" font-style="normal" >2.0</text>
<text x="93.60" y="68.80" font-size="6.8" fill="#333" stroke="#333" stroke-width="0.12" text-anchor="end" font-weight="normal" font-style="normal" >0</text>
<text x="98.00" y="61.30" font-size="9.2" fill="#1a1a1a" stroke="#1a1a1a" stroke-width="0.12" text-anchor="start" font-weight="normal" font-style="normal" >&#916;/&#916;</text>
<text x="93.60" y="77.40" font-size="6.8" fill="#333" stroke="#333" stroke-width="0.12" text-anchor="end" font-weight="normal" font-style="normal" >2.5</text>
<text x="93.60" y="89.30" font-size="6.8" fill="#333" stroke="#333" stroke-width="0.12" text-anchor="end" font-weight="normal" font-style="normal" >0</text>
<text x="98.00" y="81.80" font-size="9.2" fill="#1a1a1a" stroke="#1a1a1a" stroke-width="0.12" text-anchor="start" font-weight="normal" font-style="normal" >+/+</text>
<text x="93.60" y="97.90" font-size="6.8" fill="#333" stroke="#333" stroke-width="0.12" text-anchor="end" font-weight="normal" font-style="normal" >2.5</text>
<text x="93.60" y="109.80" font-size="6.8" fill="#333" stroke="#333" stroke-width="0.12" text-anchor="end" font-weight="normal" font-style="normal" >0</text>
<text x="98.00" y="102.30" font-size="9.2" fill="#1a1a1a" stroke="#1a1a1a" stroke-width="0.12" text-anchor="start" font-weight="normal" font-style="normal" >&#916;/&#916;</text>
<text x="93.60" y="118.40" font-size="6.8" fill="#333" stroke="#333" stroke-width="0.12" text-anchor="end" font-weight="normal" font-style="normal" >3.0</text>
<text x="93.60" y="130.30" font-size="6.8" fill="#333" stroke="#333" stroke-width="0.12" text-anchor="end" font-weight="normal" font-style="normal" >0</text>
<text x="98.00" y="122.80" font-size="9.2" fill="#1a1a1a" stroke="#1a1a1a" stroke-width="0.12" text-anchor="start" font-weight="normal" font-style="normal" >+/+</text>
<text x="93.60" y="138.40" font-size="6.8" fill="#333" stroke="#333" stroke-width="0.12" text-anchor="end" font-weight="normal" font-style="normal" >3.0</text>
<text x="93.60" y="150.30" font-size="6.8" fill="#333" stroke="#333" stroke-width="0.12" text-anchor="end" font-weight="normal" font-style="normal" >0</text>
<text x="98.00" y="142.80" font-size="9.2" fill="#1a1a1a" stroke="#1a1a1a" stroke-width="0.12" text-anchor="start" font-weight="normal" font-style="normal" >&#916;/&#916;</text>
<line x1="119.70" y1="155.60" x2="218.30" y2="155.60" stroke="#000" stroke-width="1.7" />
<line x1="119.90" y1="152.60" x2="119.90" y2="158.60" stroke="#000" stroke-width="1.2" />
<line x1="134.80" y1="152.60" x2="134.80" y2="158.60" stroke="#000" stroke-width="1.2" />
<line x1="141.30" y1="152.60" x2="141.30" y2="158.60" stroke="#000" stroke-width="1.2" />
<line x1="177.00" y1="152.60" x2="177.00" y2="158.60" stroke="#000" stroke-width="1.2" />
<line x1="198.00" y1="152.60" x2="198.00" y2="158.60" stroke="#000" stroke-width="1.2" />
<line x1="202.50" y1="152.60" x2="202.50" y2="158.60" stroke="#000" stroke-width="1.2" />
<polyline points="218.30,154.10 218.30,164.60 203.00,164.60" fill="none" stroke="#000" stroke-width="1.7" stroke-linejoin="round" />
<polygon points="196.00,164.60 204.50,161.50 204.50,167.70" fill="#000" stroke="none" stroke-width="1"/>
<text x="155.00" y="174.80" font-size="11.9" fill="#000"  text-anchor="start" font-weight="bold" font-style="italic" >Fbp2</text>
<line x1="250.00" y1="155.60" x2="355.80" y2="155.60" stroke="#000" stroke-width="1.7" />
<polygon points="247.60,155.60 253.00,152.80 253.00,158.40" fill="#000" stroke="none" stroke-width="1"/>
<line x1="262.00" y1="152.60" x2="262.00" y2="158.60" stroke="#000" stroke-width="1.2" />
<line x1="270.00" y1="152.60" x2="270.00" y2="158.60" stroke="#000" stroke-width="1.2" />
<line x1="279.50" y1="152.60" x2="279.50" y2="158.60" stroke="#000" stroke-width="1.2" />
<line x1="287.00" y1="152.60" x2="287.00" y2="158.60" stroke="#000" stroke-width="1.2" />
<line x1="298.00" y1="152.60" x2="298.00" y2="158.60" stroke="#000" stroke-width="1.2" />
<polyline points="355.80,154.10 355.80,164.50 342.00,164.50" fill="none" stroke="#000" stroke-width="1.7" stroke-linejoin="round" />
<polygon points="334.50,164.50 343.00,161.40 343.00,167.60" fill="#000" stroke="none" stroke-width="1"/>
<text x="288.20" y="174.40" font-size="11.9" fill="#000"  text-anchor="start" font-weight="bold" font-style="italic" >Fbp1</text>
<line x1="408.20" y1="155.60" x2="492.00" y2="155.60" stroke="#000" stroke-width="1.7" />
<polygon points="408.60,155.60 413.20,152.90 413.20,158.30" fill="#000" stroke="none" stroke-width="1"/>
<line x1="408.20" y1="152.60" x2="408.20" y2="158.60" stroke="#000" stroke-width="1.2" />
<line x1="430.00" y1="152.60" x2="430.00" y2="158.60" stroke="#000" stroke-width="1.2" />
<line x1="432.50" y1="152.60" x2="432.50" y2="158.60" stroke="#000" stroke-width="1.2" />
<line x1="438.80" y1="152.60" x2="438.80" y2="158.60" stroke="#000" stroke-width="1.2" />
<line x1="442.00" y1="152.60" x2="442.00" y2="158.60" stroke="#000" stroke-width="1.2" />
<line x1="450.80" y1="152.60" x2="450.80" y2="158.60" stroke="#000" stroke-width="1.2" />
<line x1="466.50" y1="152.60" x2="466.50" y2="158.60" stroke="#000" stroke-width="1.2" />
<line x1="486.50" y1="152.60" x2="486.50" y2="158.60" stroke="#000" stroke-width="1.2" />
<line x1="490.70" y1="152.60" x2="490.70" y2="158.60" stroke="#000" stroke-width="1.2" />
<polygon points="496.00,155.60 490.50,152.60 490.50,158.60" fill="#000" stroke="none" stroke-width="1"/>
<polyline points="408.20,155.60 408.20,165.00 422.00,165.00" fill="none" stroke="#000" stroke-width="1.7" stroke-linejoin="round" />
<polygon points="430.00,165.00 421.80,161.90 421.80,168.10" fill="#000" stroke="none" stroke-width="1"/>
<text x="432.00" y="175.00" font-size="11.9" fill="#000"  text-anchor="start" font-weight="bold" font-style="italic" >Epcam</text>
<text x="7.60" y="218.00" font-size="12.2" fill="#000"  text-anchor="start" font-weight="bold" font-style="normal" >B</text>
<rect x="118.10" y="228.00" width="42.70" height="50.50" fill="#6ba8dd" stroke="none" stroke-width="1"/>
<rect x="165.50" y="228.00" width="38.90" height="50.50" fill="#b8d4f0" stroke="none" stroke-width="1"/>
<line x1="51.40" y1="225.50" x2="51.40" y2="279.10" stroke="#000" stroke-width="1.1" />
<line x1="51.40" y1="278.50" x2="239.70" y2="278.50" stroke="#000" stroke-width="1.1" />
<line x1="48.60" y1="278.50" x2="51.40" y2="278.50" stroke="#000" stroke-width="1" />
<text x="45.40" y="281.00" font-size="6.9" fill="#1a1a1a" stroke="#1a1a1a" stroke-width="0.12" text-anchor="end" font-weight="normal" font-style="normal" >0</text>
<line x1="48.60" y1="268.40" x2="51.40" y2="268.40" stroke="#000" stroke-width="1" />
<text x="45.40" y="270.90" font-size="6.9" fill="#1a1a1a" stroke="#1a1a1a" stroke-width="0.12" text-anchor="end" font-weight="normal" font-style="normal" >20</text>
<line x1="48.60" y1="258.30" x2="51.40" y2="258.30" stroke="#000" stroke-width="1" />
<text x="45.40" y="260.80" font-size="6.9" fill="#1a1a1a" stroke="#1a1a1a" stroke-width="0.12" text-anchor="end" font-weight="normal" font-style="normal" >40</text>
<line x1="48.60" y1="248.20" x2="51.40" y2="248.20" stroke="#000" stroke-width="1" />
<text x="45.40" y="250.70" font-size="6.9" fill="#1a1a1a" stroke="#1a1a1a" stroke-width="0.12" text-anchor="end" font-weight="normal" font-style="normal" >60</text>
<line x1="48.60" y1="238.10" x2="51.40" y2="238.10" stroke="#000" stroke-width="1" />
<text x="45.40" y="240.60" font-size="6.9" fill="#1a1a1a" stroke="#1a1a1a" stroke-width="0.12" text-anchor="end" font-weight="normal" font-style="normal" >80</text>
<line x1="48.60" y1="228.00" x2="51.40" y2="228.00" stroke="#000" stroke-width="1" />
<text x="45.40" y="230.50" font-size="6.9" fill="#1a1a1a" stroke="#1a1a1a" stroke-width="0.12" text-anchor="end" font-weight="normal" font-style="normal" >100</text>
<line x1="51.50" y1="278.50" x2="51.50" y2="281.70" stroke="#000" stroke-width="0.9" />
<line x1="55.80" y1="278.50" x2="55.80" y2="281.70" stroke="#000" stroke-width="0.9" />
<line x1="60.10" y1="278.50" x2="60.10" y2="281.70" stroke="#000" stroke-width="0.9" />
<line x1="64.40" y1="278.50" x2="64.40" y2="281.70" stroke="#000" stroke-width="0.9" />
<line x1="68.70" y1="278.50" x2="68.70" y2="281.70" stroke="#000" stroke-width="0.9" />
<line x1="73.00" y1="278.50" x2="73.00" y2="281.70" stroke="#000" stroke-width="0.9" />
<line x1="77.30" y1="278.50" x2="77.30" y2="281.70" stroke="#000" stroke-width="0.9" />
<line x1="81.60" y1="278.50" x2="81.60" y2="281.70" stroke="#000" stroke-width="0.9" />
<line x1="85.90" y1="278.50" x2="85.90" y2="281.70" stroke="#000" stroke-width="0.9" />
<line x1="90.20" y1="278.50" x2="90.20" y2="281.70" stroke="#000" stroke-width="0.9" />
<line x1="94.50" y1="278.50" x2="94.50" y2="281.70" stroke="#000" stroke-width="0.9" />
<line x1="98.80" y1="278.50" x2="98.80" y2="281.70" stroke="#000" stroke-width="0.9" />
<line x1="103.10" y1="278.50" x2="103.10" y2="281.70" stroke="#000" stroke-width="0.9" />
<line x1="107.40" y1="278.50" x2="107.40" y2="281.70" stroke="#000" stroke-width="0.9" />
<line x1="111.70" y1="278.50" x2="111.70" y2="281.70" stroke="#000" stroke-width="0.9" />
<line x1="116.00" y1="278.50" x2="116.00" y2="281.70" stroke="#000" stroke-width="0.9" />
<line x1="120.30" y1="278.50" x2="120.30" y2="281.70" stroke="#000" stroke-width="0.9" />
<line x1="124.60" y1="278.50" x2="124.60" y2="281.70" stroke="#000" stroke-width="0.9" />
<line x1="128.90" y1="278.50" x2="128.90" y2="281.70" stroke="#000" stroke-width="0.9" />
<line x1="133.20" y1="278.50" x2="133.20" y2="281.70" stroke="#000" stroke-width="0.9" />
<line x1="137.50" y1="278.50" x2="137.50" y2="281.70" stroke="#000" stroke-width="0.9" />
<line x1="141.80" y1="278.50" x2="141.80" y2="281.70" stroke="#000" stroke-width="0.9" />
<line x1="146.10" y1="278.50" x2="146.10" y2="281.70" stroke="#000" stroke-width="0.9" />
<line x1="150.40" y1="278.50" x2="150.40" y2="281.70" stroke="#000" stroke-width="0.9" />
<line x1="154.70" y1="278.50" x2="154.70" y2="281.70" stroke="#000" stroke-width="0.9" />
<line x1="159.00" y1="278.50" x2="159.00" y2="281.70" stroke="#000" stroke-width="0.9" />
<line x1="163.30" y1="278.50" x2="163.30" y2="281.70" stroke="#000" stroke-width="0.9" />
<line x1="167.60" y1="278.50" x2="167.60" y2="281.70" stroke="#000" stroke-width="0.9" />
<line x1="171.90" y1="278.50" x2="171.90" y2="281.70" stroke="#000" stroke-width="0.9" />
<line x1="176.20" y1="278.50" x2="176.20" y2="281.70" stroke="#000" stroke-width="0.9" />
<line x1="180.50" y1="278.50" x2="180.50" y2="281.70" stroke="#000" stroke-width="0.9" />
<line x1="184.80" y1="278.50" x2="184.80" y2="281.70" stroke="#000" stroke-width="0.9" />
<line x1="189.10" y1="278.50" x2="189.10" y2="281.70" stroke="#000" stroke-width="0.9" />
<line x1="193.40" y1="278.50" x2="193.40" y2="281.70" stroke="#000" stroke-width="0.9" />
<line x1="197.70" y1="278.50" x2="197.70" y2="281.70" stroke="#000" stroke-width="0.9" />
<line x1="202.00" y1="278.50" x2="202.00" y2="281.70" stroke="#000" stroke-width="0.9" />
<line x1="206.30" y1="278.50" x2="206.30" y2="281.70" stroke="#000" stroke-width="0.9" />
<line x1="210.60" y1="278.50" x2="210.60" y2="281.70" stroke="#000" stroke-width="0.9" />
<line x1="214.90" y1="278.50" x2="214.90" y2="281.70" stroke="#000" stroke-width="0.9" />
<line x1="219.20" y1="278.50" x2="219.20" y2="281.70" stroke="#000" stroke-width="0.9" />
<line x1="223.50" y1="278.50" x2="223.50" y2="281.70" stroke="#000" stroke-width="0.9" />
<line x1="227.80" y1="278.50" x2="227.80" y2="281.70" stroke="#000" stroke-width="0.9" />
<line x1="232.10" y1="278.50" x2="232.10" y2="281.70" stroke="#000" stroke-width="0.9" />
<line x1="236.40" y1="278.50" x2="236.40" y2="281.70" stroke="#000" stroke-width="0.9" />
<text transform="translate(28.60,252.45) rotate(-90)" font-size="10.2" fill="#111" stroke="#111" stroke-width="0.12" text-anchor="middle" font-weight="normal" font-style="normal" textLength="39.5" lengthAdjust="spacingAndGlyphs">5-mC (%)</text>
<text x="58.20" y="236.80" font-size="7.9" fill="#000"  text-anchor="start" font-weight="bold" font-style="normal" >ES</text>
<text transform="translate(55.90,315.70) rotate(-90)" font-size="6.9" fill="#1a1a1a" stroke="#1a1a1a" stroke-width="0.1">62914285</text>
<text transform="translate(64.00,315.70) rotate(-90)" font-size="6.9" fill="#1a1a1a" stroke="#1a1a1a" stroke-width="0.1">62914297</text>
<text transform="translate(72.80,315.70) rotate(-90)" font-size="6.9" fill="#1a1a1a" stroke="#1a1a1a" stroke-width="0.1">62914302</text>
<text transform="translate(81.20,315.70) rotate(-90)" font-size="6.9" fill="#1a1a1a" stroke="#1a1a1a" stroke-width="0.1">62914316</text>
<text transform="translate(90.20,315.70) rotate(-90)" font-size="6.9" fill="#1a1a1a" stroke="#1a1a1a" stroke-width="0.1">62914330</text>
<text transform="translate(98.40,315.70) rotate(-90)" font-size="6.9" fill="#1a1a1a" stroke="#1a1a1a" stroke-width="0.1">62914345</text>
<text transform="translate(107.10,315.70) rotate(-90)" font-size="6.9" fill="#1a1a1a" stroke="#1a1a1a" stroke-width="0.1">62914355</text>
<text transform="translate(120.30,315.70) rotate(-90)" font-size="6.9" fill="#94b8dc" stroke="#94b8dc" stroke-width="0">62952021</text>
<text transform="translate(140.40,315.70) rotate(-90)" font-size="6.9" fill="#94b8dc" stroke="#94b8dc" stroke-width="0">62955501</text>
<text transform="translate(160.40,315.70) rotate(-90)" font-size="6.9" fill="#94b8dc" stroke="#94b8dc" stroke-width="0">62959574</text>
<text transform="translate(168.40,315.70) rotate(-90)" font-size="6.9" fill="#d3dde8" stroke="#d3dde8" stroke-width="0">62960023</text>
<text transform="translate(188.70,315.70) rotate(-90)" font-size="6.9" fill="#d3dde8" stroke="#d3dde8" stroke-width="0">62973004</text>
<text transform="translate(205.70,315.70) rotate(-90)" font-size="6.9" fill="#d3dde8" stroke="#d3dde8" stroke-width="0">62980005</text>
<text transform="translate(219.80,315.70) rotate(-90)" font-size="6.9" fill="#1a1a1a" stroke="#1a1a1a" stroke-width="0.1">63068262</text>
<text transform="translate(228.00,315.70) rotate(-90)" font-size="6.9" fill="#1a1a1a" stroke="#1a1a1a" stroke-width="0.1">63068294</text>
<text transform="translate(236.30,315.70) rotate(-90)" font-size="6.9" fill="#1a1a1a" stroke="#1a1a1a" stroke-width="0.1">63068323</text>
<polyline points="52.00,278.00 57.50,265.70 62.00,278.00 70.00,278.00 75.00,275.00 78.80,273.00 85.00,276.00 87.80,278.00 96.00,278.00 104.70,278.00 113.80,227.50 118.70,236.40 122.10,228.90 126.70,232.00 130.80,233.00 134.80,235.30 139.40,242.20 143.40,241.60 148.00,231.80 152.70,236.40 160.70,233.50 166.50,228.70 170.00,229.00 178.00,232.50 183.00,231.00 190.00,232.00 195.50,265.40 212.30,228.50 216.50,278.30" fill="none" stroke="#9a1548" stroke-width="1.3" stroke-linejoin="round" />
<polyline points="52.00,269.80 57.50,271.80 62.00,275.20 70.50,275.20 75.00,272.00 78.80,273.80 87.80,275.00 92.00,270.20 96.00,270.50 104.70,273.10 113.80,227.80 118.70,238.10 122.10,240.50 126.70,231.20 130.80,236.40 135.40,230.10 139.40,235.80 144.00,230.10 149.80,229.50 153.80,228.70 160.70,228.70 170.00,230.00 178.00,231.00 183.00,229.50 188.00,231.50 195.30,260.80 208.80,227.70 212.70,230.00 217.40,278.30 234.00,278.30" fill="none" stroke="#000" stroke-width="1.4" stroke-linejoin="round" />
<line x1="222.80" y1="248.50" x2="230.20" y2="248.50" stroke="#000" stroke-width="1.6" />
<text x="233.30" y="251.10" font-size="7" fill="#222" stroke="#222" stroke-width="0.12" text-anchor="start" font-weight="normal" font-style="normal" >WT</text>
<line x1="222.80" y1="259.50" x2="230.20" y2="259.50" stroke="#9a1548" stroke-width="1.6" />
<text x="233.30" y="262.30" font-size="7" fill="#222" stroke="#222" stroke-width="0.12" text-anchor="start" font-weight="normal" font-style="italic" >Setdb1</text>
<text x="255.2" y="259.90" font-size="6.6" fill="#333" font-family="Liberation Serif, serif">&#916;/&#916;</text>
<rect x="118.10" y="334.40" width="42.70" height="50.85" fill="#6ba8dd" stroke="none" stroke-width="1"/>
<rect x="165.50" y="334.40" width="38.90" height="50.85" fill="#b8d4f0" stroke="none" stroke-width="1"/>
<line x1="51.40" y1="331.90" x2="51.40" y2="385.85" stroke="#000" stroke-width="1.1" />
<line x1="51.40" y1="385.25" x2="239.70" y2="385.25" stroke="#000" stroke-width="1.1" />
<line x1="48.60" y1="385.25" x2="51.40" y2="385.25" stroke="#000" stroke-width="1" />
<text x="45.40" y="387.75" font-size="6.9" fill="#1a1a1a" stroke="#1a1a1a" stroke-width="0.12" text-anchor="end" font-weight="normal" font-style="normal" >0</text>
<line x1="48.60" y1="375.08" x2="51.40" y2="375.08" stroke="#000" stroke-width="1" />
<text x="45.40" y="377.58" font-size="6.9" fill="#1a1a1a" stroke="#1a1a1a" stroke-width="0.12" text-anchor="end" font-weight="normal" font-style="normal" >20</text>
<line x1="48.60" y1="364.91" x2="51.40" y2="364.91" stroke="#000" stroke-width="1" />
<text x="45.40" y="367.41" font-size="6.9" fill="#1a1a1a" stroke="#1a1a1a" stroke-width="0.12" text-anchor="end" font-weight="normal" font-style="normal" >40</text>
<line x1="48.60" y1="354.74" x2="51.40" y2="354.74" stroke="#000" stroke-width="1" />
<text x="45.40" y="357.24" font-size="6.9" fill="#1a1a1a" stroke="#1a1a1a" stroke-width="0.12" text-anchor="end" font-weight="normal" font-style="normal" >60</text>
<line x1="48.60" y1="344.57" x2="51.40" y2="344.57" stroke="#000" stroke-width="1" />
<text x="45.40" y="347.07" font-size="6.9" fill="#1a1a1a" stroke="#1a1a1a" stroke-width="0.12" text-anchor="end" font-weight="normal" font-style="normal" >80</text>
<line x1="48.60" y1="334.40" x2="51.40" y2="334.40" stroke="#000" stroke-width="1" />
<text x="45.40" y="336.90" font-size="6.9" fill="#1a1a1a" stroke="#1a1a1a" stroke-width="0.12" text-anchor="end" font-weight="normal" font-style="normal" >100</text>
<line x1="51.50" y1="385.25" x2="51.50" y2="388.45" stroke="#000" stroke-width="0.9" />
<line x1="55.80" y1="385.25" x2="55.80" y2="388.45" stroke="#000" stroke-width="0.9" />
<line x1="60.10" y1="385.25" x2="60.10" y2="388.45" stroke="#000" stroke-width="0.9" />
<line x1="64.40" y1="385.25" x2="64.40" y2="388.45" stroke="#000" stroke-width="0.9" />
<line x1="68.70" y1="385.25" x2="68.70" y2="388.45" stroke="#000" stroke-width="0.9" />
<line x1="73.00" y1="385.25" x2="73.00" y2="388.45" stroke="#000" stroke-width="0.9" />
<line x1="77.30" y1="385.25" x2="77.30" y2="388.45" stroke="#000" stroke-width="0.9" />
<line x1="81.60" y1="385.25" x2="81.60" y2="388.45" stroke="#000" stroke-width="0.9" />
<line x1="85.90" y1="385.25" x2="85.90" y2="388.45" stroke="#000" stroke-width="0.9" />
<line x1="90.20" y1="385.25" x2="90.20" y2="388.45" stroke="#000" stroke-width="0.9" />
<line x1="94.50" y1="385.25" x2="94.50" y2="388.45" stroke="#000" stroke-width="0.9" />
<line x1="98.80" y1="385.25" x2="98.80" y2="388.45" stroke="#000" stroke-width="0.9" />
<line x1="103.10" y1="385.25" x2="103.10" y2="388.45" stroke="#000" stroke-width="0.9" />
<line x1="107.40" y1="385.25" x2="107.40" y2="388.45" stroke="#000" stroke-width="0.9" />
<line x1="111.70" y1="385.25" x2="111.70" y2="388.45" stroke="#000" stroke-width="0.9" />
<line x1="116.00" y1="385.25" x2="116.00" y2="388.45" stroke="#000" stroke-width="0.9" />
<line x1="120.30" y1="385.25" x2="120.30" y2="388.45" stroke="#000" stroke-width="0.9" />
<line x1="124.60" y1="385.25" x2="124.60" y2="388.45" stroke="#000" stroke-width="0.9" />
<line x1="128.90" y1="385.25" x2="128.90" y2="388.45" stroke="#000" stroke-width="0.9" />
<line x1="133.20" y1="385.25" x2="133.20" y2="388.45" stroke="#000" stroke-width="0.9" />
<line x1="137.50" y1="385.25" x2="137.50" y2="388.45" stroke="#000" stroke-width="0.9" />
<line x1="141.80" y1="385.25" x2="141.80" y2="388.45" stroke="#000" stroke-width="0.9" />
<line x1="146.10" y1="385.25" x2="146.10" y2="388.45" stroke="#000" stroke-width="0.9" />
<line x1="150.40" y1="385.25" x2="150.40" y2="388.45" stroke="#000" stroke-width="0.9" />
<line x1="154.70" y1="385.25" x2="154.70" y2="388.45" stroke="#000" stroke-width="0.9" />
<line x1="159.00" y1="385.25" x2="159.00" y2="388.45" stroke="#000" stroke-width="0.9" />
<line x1="163.30" y1="385.25" x2="163.30" y2="388.45" stroke="#000" stroke-width="0.9" />
<line x1="167.60" y1="385.25" x2="167.60" y2="388.45" stroke="#000" stroke-width="0.9" />
<line x1="171.90" y1="385.25" x2="171.90" y2="388.45" stroke="#000" stroke-width="0.9" />
<line x1="176.20" y1="385.25" x2="176.20" y2="388.45" stroke="#000" stroke-width="0.9" />
<line x1="180.50" y1="385.25" x2="180.50" y2="388.45" stroke="#000" stroke-width="0.9" />
<line x1="184.80" y1="385.25" x2="184.80" y2="388.45" stroke="#000" stroke-width="0.9" />
<line x1="189.10" y1="385.25" x2="189.10" y2="388.45" stroke="#000" stroke-width="0.9" />
<line x1="193.40" y1="385.25" x2="193.40" y2="388.45" stroke="#000" stroke-width="0.9" />
<line x1="197.70" y1="385.25" x2="197.70" y2="388.45" stroke="#000" stroke-width="0.9" />
<line x1="202.00" y1="385.25" x2="202.00" y2="388.45" stroke="#000" stroke-width="0.9" />
<line x1="206.30" y1="385.25" x2="206.30" y2="388.45" stroke="#000" stroke-width="0.9" />
<line x1="210.60" y1="385.25" x2="210.60" y2="388.45" stroke="#000" stroke-width="0.9" />
<line x1="214.90" y1="385.25" x2="214.90" y2="388.45" stroke="#000" stroke-width="0.9" />
<line x1="219.20" y1="385.25" x2="219.20" y2="388.45" stroke="#000" stroke-width="0.9" />
<line x1="223.50" y1="385.25" x2="223.50" y2="388.45" stroke="#000" stroke-width="0.9" />
<line x1="227.80" y1="385.25" x2="227.80" y2="388.45" stroke="#000" stroke-width="0.9" />
<line x1="232.10" y1="385.25" x2="232.10" y2="388.45" stroke="#000" stroke-width="0.9" />
<line x1="236.40" y1="385.25" x2="236.40" y2="388.45" stroke="#000" stroke-width="0.9" />
<text transform="translate(28.60,359.02) rotate(-90)" font-size="10.2" fill="#111" stroke="#111" stroke-width="0.12" text-anchor="middle" font-weight="normal" font-style="normal" textLength="39.5" lengthAdjust="spacingAndGlyphs">5-mC (%)</text>
<text x="56.60" y="343.90" font-size="7.9" fill="#000"  text-anchor="start" font-weight="bold" font-style="normal" >LSK</text>
<text transform="translate(55.90,422.45) rotate(-90)" font-size="6.9" fill="#1a1a1a" stroke="#1a1a1a" stroke-width="0.1">62914285</text>
<text transform="translate(64.00,422.45) rotate(-90)" font-size="6.9" fill="#1a1a1a" stroke="#1a1a1a" stroke-width="0.1">62914297</text>
<text transform="translate(72.80,422.45) rotate(-90)" font-size="6.9" fill="#1a1a1a" stroke="#1a1a1a" stroke-width="0.1">62914302</text>
<text transform="translate(81.20,422.45) rotate(-90)" font-size="6.9" fill="#1a1a1a" stroke="#1a1a1a" stroke-width="0.1">62914316</text>
<text transform="translate(90.20,422.45) rotate(-90)" font-size="6.9" fill="#1a1a1a" stroke="#1a1a1a" stroke-width="0.1">62914330</text>
<text transform="translate(98.40,422.45) rotate(-90)" font-size="6.9" fill="#1a1a1a" stroke="#1a1a1a" stroke-width="0.1">62914345</text>
<text transform="translate(107.10,422.45) rotate(-90)" font-size="6.9" fill="#1a1a1a" stroke="#1a1a1a" stroke-width="0.1">62914355</text>
<text transform="translate(120.30,422.45) rotate(-90)" font-size="6.9" fill="#94b8dc" stroke="#94b8dc" stroke-width="0">62952021</text>
<text transform="translate(140.40,422.45) rotate(-90)" font-size="6.9" fill="#94b8dc" stroke="#94b8dc" stroke-width="0">62955501</text>
<text transform="translate(160.40,422.45) rotate(-90)" font-size="6.9" fill="#94b8dc" stroke="#94b8dc" stroke-width="0">62959574</text>
<text transform="translate(168.40,422.45) rotate(-90)" font-size="6.9" fill="#d3dde8" stroke="#d3dde8" stroke-width="0">62960023</text>
<text transform="translate(188.70,422.45) rotate(-90)" font-size="6.9" fill="#d3dde8" stroke="#d3dde8" stroke-width="0">62973004</text>
<text transform="translate(205.70,422.45) rotate(-90)" font-size="6.9" fill="#d3dde8" stroke="#d3dde8" stroke-width="0">62980005</text>
<text transform="translate(219.80,422.45) rotate(-90)" font-size="6.9" fill="#1a1a1a" stroke="#1a1a1a" stroke-width="0.1">63068262</text>
<text transform="translate(228.00,422.45) rotate(-90)" font-size="6.9" fill="#1a1a1a" stroke="#1a1a1a" stroke-width="0.1">63068294</text>
<text transform="translate(236.30,422.45) rotate(-90)" font-size="6.9" fill="#1a1a1a" stroke="#1a1a1a" stroke-width="0.1">63068323</text>
<polyline points="52.00,383.00 57.00,382.50 62.00,383.00 66.00,382.50 70.00,383.00 75.00,378.50 79.00,381.00 84.00,381.00 87.80,384.00 96.00,384.00 100.00,385.00 104.70,385.00 108.50,334.70 113.50,334.70 118.00,336.00 121.50,337.50 126.70,337.00 130.80,346.50 134.80,341.80 144.00,351.00 148.60,336.00 152.70,345.30 156.70,357.40 160.70,340.70 166.50,335.50 170.00,336.00 180.00,338.00 187.00,336.00 192.40,381.50 200.00,345.00 204.20,362.50 210.80,334.80 213.00,336.00 216.50,385.00" fill="none" stroke="#9a1548" stroke-width="1.3" stroke-linejoin="round" />
<polyline points="52.00,379.80 57.00,380.90 62.00,380.00 66.00,380.00 70.00,381.80 74.00,381.10 78.80,380.50 87.80,380.50 92.00,371.00 96.00,381.80 100.00,383.80 104.70,381.80 113.50,337.80 118.30,338.00 121.50,339.00 126.70,336.00 130.80,340.70 136.50,337.80 144.60,335.00 148.00,335.50 152.10,340.70 156.70,347.00 161.30,339.50 166.50,336.00 170.00,337.00 180.00,335.50 187.00,335.50 191.70,383.30 209.20,335.00 212.50,335.00 217.00,385.00" fill="none" stroke="#000" stroke-width="1.4" stroke-linejoin="round" />
<line x1="222.80" y1="356.50" x2="230.20" y2="356.50" stroke="#000" stroke-width="1.6" />
<text x="233.30" y="359.10" font-size="7" fill="#222" stroke="#222" stroke-width="0.12" text-anchor="start" font-weight="normal" font-style="normal" >WT</text>
<line x1="222.80" y1="367.50" x2="230.20" y2="367.50" stroke="#9a1548" stroke-width="1.6" />
<text x="233.30" y="370.30" font-size="7" fill="#222" stroke="#222" stroke-width="0.12" text-anchor="start" font-weight="normal" font-style="italic" >Setdb1</text>
<text x="255.2" y="367.90" font-size="6.6" fill="#333" font-family="Liberation Serif, serif">&#916;/&#916;</text>
<rect x="118.10" y="441.25" width="42.70" height="50.95" fill="#6ba8dd" stroke="none" stroke-width="1"/>
<rect x="165.50" y="441.25" width="38.90" height="50.95" fill="#b8d4f0" stroke="none" stroke-width="1"/>
<line x1="51.40" y1="438.75" x2="51.40" y2="492.80" stroke="#000" stroke-width="1.1" />
<line x1="51.40" y1="492.20" x2="239.70" y2="492.20" stroke="#000" stroke-width="1.1" />
<line x1="48.60" y1="492.20" x2="51.40" y2="492.20" stroke="#000" stroke-width="1" />
<text x="45.40" y="494.70" font-size="6.9" fill="#1a1a1a" stroke="#1a1a1a" stroke-width="0.12" text-anchor="end" font-weight="normal" font-style="normal" >0</text>
<line x1="48.60" y1="482.01" x2="51.40" y2="482.01" stroke="#000" stroke-width="1" />
<text x="45.40" y="484.51" font-size="6.9" fill="#1a1a1a" stroke="#1a1a1a" stroke-width="0.12" text-anchor="end" font-weight="normal" font-style="normal" >20</text>
<line x1="48.60" y1="471.82" x2="51.40" y2="471.82" stroke="#000" stroke-width="1" />
<text x="45.40" y="474.32" font-size="6.9" fill="#1a1a1a" stroke="#1a1a1a" stroke-width="0.12" text-anchor="end" font-weight="normal" font-style="normal" >40</text>
<line x1="48.60" y1="461.63" x2="51.40" y2="461.63" stroke="#000" stroke-width="1" />
<text x="45.40" y="464.13" font-size="6.9" fill="#1a1a1a" stroke="#1a1a1a" stroke-width="0.12" text-anchor="end" font-weight="normal" font-style="normal" >60</text>
<line x1="48.60" y1="451.44" x2="51.40" y2="451.44" stroke="#000" stroke-width="1" />
<text x="45.40" y="453.94" font-size="6.9" fill="#1a1a1a" stroke="#1a1a1a" stroke-width="0.12" text-anchor="end" font-weight="normal" font-style="normal" >80</text>
<line x1="48.60" y1="441.25" x2="51.40" y2="441.25" stroke="#000" stroke-width="1" />
<text x="45.40" y="443.75" font-size="6.9" fill="#1a1a1a" stroke="#1a1a1a" stroke-width="0.12" text-anchor="end" font-weight="normal" font-style="normal" >100</text>
<line x1="51.50" y1="492.20" x2="51.50" y2="495.40" stroke="#000" stroke-width="0.9" />
<line x1="55.80" y1="492.20" x2="55.80" y2="495.40" stroke="#000" stroke-width="0.9" />
<line x1="60.10" y1="492.20" x2="60.10" y2="495.40" stroke="#000" stroke-width="0.9" />
<line x1="64.40" y1="492.20" x2="64.40" y2="495.40" stroke="#000" stroke-width="0.9" />
<line x1="68.70" y1="492.20" x2="68.70" y2="495.40" stroke="#000" stroke-width="0.9" />
<line x1="73.00" y1="492.20" x2="73.00" y2="495.40" stroke="#000" stroke-width="0.9" />
<line x1="77.30" y1="492.20" x2="77.30" y2="495.40" stroke="#000" stroke-width="0.9" />
<line x1="81.60" y1="492.20" x2="81.60" y2="495.40" stroke="#000" stroke-width="0.9" />
<line x1="85.90" y1="492.20" x2="85.90" y2="495.40" stroke="#000" stroke-width="0.9" />
<line x1="90.20" y1="492.20" x2="90.20" y2="495.40" stroke="#000" stroke-width="0.9" />
<line x1="94.50" y1="492.20" x2="94.50" y2="495.40" stroke="#000" stroke-width="0.9" />
<line x1="98.80" y1="492.20" x2="98.80" y2="495.40" stroke="#000" stroke-width="0.9" />
<line x1="103.10" y1="492.20" x2="103.10" y2="495.40" stroke="#000" stroke-width="0.9" />
<line x1="107.40" y1="492.20" x2="107.40" y2="495.40" stroke="#000" stroke-width="0.9" />
<line x1="111.70" y1="492.20" x2="111.70" y2="495.40" stroke="#000" stroke-width="0.9" />
<line x1="116.00" y1="492.20" x2="116.00" y2="495.40" stroke="#000" stroke-width="0.9" />
<line x1="120.30" y1="492.20" x2="120.30" y2="495.40" stroke="#000" stroke-width="0.9" />
<line x1="124.60" y1="492.20" x2="124.60" y2="495.40" stroke="#000" stroke-width="0.9" />
<line x1="128.90" y1="492.20" x2="128.90" y2="495.40" stroke="#000" stroke-width="0.9" />
<line x1="133.20" y1="492.20" x2="133.20" y2="495.40" stroke="#000" stroke-width="0.9" />
<line x1="137.50" y1="492.20" x2="137.50" y2="495.40" stroke="#000" stroke-width="0.9" />
<line x1="141.80" y1="492.20" x2="141.80" y2="495.40" stroke="#000" stroke-width="0.9" />
<line x1="146.10" y1="492.20" x2="146.10" y2="495.40" stroke="#000" stroke-width="0.9" />
<line x1="150.40" y1="492.20" x2="150.40" y2="495.40" stroke="#000" stroke-width="0.9" />
<line x1="154.70" y1="492.20" x2="154.70" y2="495.40" stroke="#000" stroke-width="0.9" />
<line x1="159.00" y1="492.20" x2="159.00" y2="495.40" stroke="#000" stroke-width="0.9" />
<line x1="163.30" y1="492.20" x2="163.30" y2="495.40" stroke="#000" stroke-width="0.9" />
<line x1="167.60" y1="492.20" x2="167.60" y2="495.40" stroke="#000" stroke-width="0.9" />
<line x1="171.90" y1="492.20" x2="171.90" y2="495.40" stroke="#000" stroke-width="0.9" />
<line x1="176.20" y1="492.20" x2="176.20" y2="495.40" stroke="#000" stroke-width="0.9" />
<line x1="180.50" y1="492.20" x2="180.50" y2="495.40" stroke="#000" stroke-width="0.9" />
<line x1="184.80" y1="492.20" x2="184.80" y2="495.40" stroke="#000" stroke-width="0.9" />
<line x1="189.10" y1="492.20" x2="189.10" y2="495.40" stroke="#000" stroke-width="0.9" />
<line x1="193.40" y1="492.20" x2="193.40" y2="495.40" stroke="#000" stroke-width="0.9" />
<line x1="197.70" y1="492.20" x2="197.70" y2="495.40" stroke="#000" stroke-width="0.9" />
<line x1="202.00" y1="492.20" x2="202.00" y2="495.40" stroke="#000" stroke-width="0.9" />
<line x1="206.30" y1="492.20" x2="206.30" y2="495.40" stroke="#000" stroke-width="0.9" />
<line x1="210.60" y1="492.20" x2="210.60" y2="495.40" stroke="#000" stroke-width="0.9" />
<line x1="214.90" y1="492.20" x2="214.90" y2="495.40" stroke="#000" stroke-width="0.9" />
<line x1="219.20" y1="492.20" x2="219.20" y2="495.40" stroke="#000" stroke-width="0.9" />
<line x1="223.50" y1="492.20" x2="223.50" y2="495.40" stroke="#000" stroke-width="0.9" />
<line x1="227.80" y1="492.20" x2="227.80" y2="495.40" stroke="#000" stroke-width="0.9" />
<line x1="232.10" y1="492.20" x2="232.10" y2="495.40" stroke="#000" stroke-width="0.9" />
<line x1="236.40" y1="492.20" x2="236.40" y2="495.40" stroke="#000" stroke-width="0.9" />
<text transform="translate(28.60,465.93) rotate(-90)" font-size="10.2" fill="#111" stroke="#111" stroke-width="0.12" text-anchor="middle" font-weight="normal" font-style="normal" textLength="39.5" lengthAdjust="spacingAndGlyphs">5-mC (%)</text>
<text x="55.90" y="450.60" font-size="7.9" fill="#000"  text-anchor="start" font-weight="bold" font-style="normal" >GMP</text>
<text transform="translate(55.90,529.40) rotate(-90)" font-size="6.9" fill="#1a1a1a" stroke="#1a1a1a" stroke-width="0.1">62914285</text>
<text transform="translate(64.00,529.40) rotate(-90)" font-size="6.9" fill="#1a1a1a" stroke="#1a1a1a" stroke-width="0.1">62914297</text>
<text transform="translate(72.80,529.40) rotate(-90)" font-size="6.9" fill="#1a1a1a" stroke="#1a1a1a" stroke-width="0.1">62914302</text>
<text transform="translate(81.20,529.40) rotate(-90)" font-size="6.9" fill="#1a1a1a" stroke="#1a1a1a" stroke-width="0.1">62914316</text>
<text transform="translate(90.20,529.40) rotate(-90)" font-size="6.9" fill="#1a1a1a" stroke="#1a1a1a" stroke-width="0.1">62914330</text>
<text transform="translate(98.40,529.40) rotate(-90)" font-size="6.9" fill="#1a1a1a" stroke="#1a1a1a" stroke-width="0.1">62914345</text>
<text transform="translate(107.10,529.40) rotate(-90)" font-size="6.9" fill="#1a1a1a" stroke="#1a1a1a" stroke-width="0.1">62914355</text>
<text transform="translate(120.30,529.40) rotate(-90)" font-size="6.9" fill="#94b8dc" stroke="#94b8dc" stroke-width="0">62952021</text>
<text transform="translate(140.40,529.40) rotate(-90)" font-size="6.9" fill="#94b8dc" stroke="#94b8dc" stroke-width="0">62955501</text>
<text transform="translate(160.40,529.40) rotate(-90)" font-size="6.9" fill="#94b8dc" stroke="#94b8dc" stroke-width="0">62959574</text>
<text transform="translate(168.40,529.40) rotate(-90)" font-size="6.9" fill="#d3dde8" stroke="#d3dde8" stroke-width="0">62960023</text>
<text transform="translate(188.70,529.40) rotate(-90)" font-size="6.9" fill="#d3dde8" stroke="#d3dde8" stroke-width="0">62973004</text>
<text transform="translate(205.70,529.40) rotate(-90)" font-size="6.9" fill="#d3dde8" stroke="#d3dde8" stroke-width="0">62980005</text>
<text transform="translate(219.80,529.40) rotate(-90)" font-size="6.9" fill="#1a1a1a" stroke="#1a1a1a" stroke-width="0.1">63068262</text>
<text transform="translate(228.00,529.40) rotate(-90)" font-size="6.9" fill="#1a1a1a" stroke="#1a1a1a" stroke-width="0.1">63068294</text>
<text transform="translate(236.30,529.40) rotate(-90)" font-size="6.9" fill="#1a1a1a" stroke="#1a1a1a" stroke-width="0.1">63068323</text>
<polyline points="52.00,490.50 57.00,490.50 62.00,490.50 70.00,491.00 75.00,489.00 79.00,491.00 87.80,492.00 96.00,491.50 104.70,491.00 108.50,441.50 114.00,441.50 118.00,445.00 122.00,446.00 127.30,442.00 130.80,472.90 134.80,462.00 140.00,475.20 144.00,475.20 148.60,470.00 153.30,470.60 157.30,474.60 160.70,472.90 164.80,443.50 168.80,441.50 174.00,441.50 187.00,442.00 191.50,491.40 196.00,480.00 200.00,470.00 208.50,447.50 213.10,443.00 216.50,491.50" fill="none" stroke="#9a1548" stroke-width="1.3" stroke-linejoin="round" />
<polyline points="52.00,486.90 57.00,487.00 62.00,487.00 66.00,487.80 70.00,487.80 75.00,481.80 79.00,490.50 83.00,491.00 87.80,487.80 92.00,483.40 96.00,489.20 100.00,489.50 104.70,487.10 110.50,441.70 114.00,441.50 118.00,445.80 122.10,447.00 126.70,442.30 130.80,443.50 138.80,443.50 147.50,442.30 152.10,445.80 160.20,442.90 164.80,447.00 168.80,443.00 174.60,441.80 183.00,443.40 187.40,442.00 191.50,490.60 196.20,473.70 201.50,465.20 208.50,451.40 213.10,451.40 216.90,491.90 234.00,491.90" fill="none" stroke="#000" stroke-width="1.4" stroke-linejoin="round" />
<line x1="222.80" y1="460.90" x2="230.20" y2="460.90" stroke="#000" stroke-width="1.6" />
<text x="233.30" y="463.50" font-size="7" fill="#222" stroke="#222" stroke-width="0.12" text-anchor="start" font-weight="normal" font-style="normal" >WT</text>
<line x1="222.80" y1="471.90" x2="230.20" y2="471.90" stroke="#9a1548" stroke-width="1.6" />
<text x="233.30" y="474.70" font-size="7" fill="#222" stroke="#222" stroke-width="0.12" text-anchor="start" font-weight="normal" font-style="italic" >Setdb1</text>
<text x="255.2" y="472.30" font-size="6.6" fill="#333" font-family="Liberation Serif, serif">&#916;/&#916;</text>
<line x1="120.00" y1="532.20" x2="158.00" y2="532.20" stroke="#6f9fd0" stroke-width="1.3" />
<polygon points="115.50,532.20 122.00,529.80 122.00,534.60" fill="#6f9fd0" stroke="none" stroke-width="1"/>
<text x="128.60" y="542.40" font-size="8.9" fill="#6f9fd0"  text-anchor="start" font-weight="bold" font-style="italic" >Fbp2</text>
<line x1="170.00" y1="532.20" x2="202.40" y2="532.20" stroke="#c3d4e6" stroke-width="1.3" />
<polygon points="165.50,532.20 172.00,529.80 172.00,534.60" fill="#c3d4e6" stroke="none" stroke-width="1"/>
<text x="176.80" y="542.40" font-size="8.9" fill="#c6d3e0"  text-anchor="start" font-weight="bold" font-style="italic" >Fbp1</text>
<text x="318.00" y="218.80" font-size="12.4" fill="#000"  text-anchor="start" font-weight="bold" font-style="normal" >C</text>
<rect x="467.80" y="217.90" width="6.20" height="6.10" fill="#6ea5d8" stroke="none" stroke-width="1"/>
<text x="477.00" y="223.20" font-size="7" fill="#222" stroke="#222" stroke-width="0.12" text-anchor="start" font-weight="normal" font-style="normal" >WT</text>
<rect x="467.80" y="228.90" width="6.20" height="6.10" fill="#a8072f" stroke="none" stroke-width="1"/>
<text x="477.00" y="234.60" font-size="7" fill="#222" stroke="#222" stroke-width="0.12" text-anchor="start" font-weight="normal" font-style="italic" >Setdb1</text>
<text x="499.5" y="231.2" font-size="6.6" fill="#333" font-family="Liberation Serif, serif">&#916;/&#916;</text>
<line x1="363.20" y1="245.60" x2="363.20" y2="313.90" stroke="#000" stroke-width="1.1" />
<line x1="363.20" y1="313.40" x2="467.70" y2="313.40" stroke="#000" stroke-width="1.1" />
<line x1="360.60" y1="313.40" x2="363.20" y2="313.40" stroke="#000" stroke-width="1" />
<text transform="translate(356.00,316.40) scale(0.88,1)" font-size="8.6" fill="#111" stroke="#111" stroke-width="0.12" text-anchor="end" font-weight="normal" font-style="normal">0</text>
<line x1="360.60" y1="304.16" x2="363.20" y2="304.16" stroke="#000" stroke-width="1" />
<text transform="translate(356.00,307.16) scale(0.88,1)" font-size="8.6" fill="#111" stroke="#111" stroke-width="0.12" text-anchor="end" font-weight="normal" font-style="normal">2</text>
<line x1="360.60" y1="294.92" x2="363.20" y2="294.92" stroke="#000" stroke-width="1" />
<text transform="translate(356.00,297.92) scale(0.88,1)" font-size="8.6" fill="#111" stroke="#111" stroke-width="0.12" text-anchor="end" font-weight="normal" font-style="normal">4</text>
<line x1="360.60" y1="285.68" x2="363.20" y2="285.68" stroke="#000" stroke-width="1" />
<text transform="translate(356.00,288.68) scale(0.88,1)" font-size="8.6" fill="#111" stroke="#111" stroke-width="0.12" text-anchor="end" font-weight="normal" font-style="normal">6</text>
<line x1="360.60" y1="276.44" x2="363.20" y2="276.44" stroke="#000" stroke-width="1" />
<text transform="translate(356.00,279.44) scale(0.88,1)" font-size="8.6" fill="#111" stroke="#111" stroke-width="0.12" text-anchor="end" font-weight="normal" font-style="normal">8</text>
<line x1="360.60" y1="267.20" x2="363.20" y2="267.20" stroke="#000" stroke-width="1" />
<text transform="translate(356.00,270.20) scale(0.88,1)" font-size="8.6" fill="#111" stroke="#111" stroke-width="0.12" text-anchor="end" font-weight="normal" font-style="normal">10</text>
<line x1="360.60" y1="257.96" x2="363.20" y2="257.96" stroke="#000" stroke-width="1" />
<text transform="translate(356.00,260.96) scale(0.88,1)" font-size="8.6" fill="#111" stroke="#111" stroke-width="0.12" text-anchor="end" font-weight="normal" font-style="normal">12</text>
<line x1="360.60" y1="248.72" x2="363.20" y2="248.72" stroke="#000" stroke-width="1" />
<text transform="translate(356.00,251.72) scale(0.88,1)" font-size="8.6" fill="#111" stroke="#111" stroke-width="0.12" text-anchor="end" font-weight="normal" font-style="normal">14</text>
<rect x="366.90" y="297.69" width="5.25" height="15.71" fill="#6ea5d8" stroke="none" stroke-width="1"/>
<line x1="369.52" y1="297.69" x2="369.52" y2="297.23" stroke="#222" stroke-width="0.9" />
<line x1="368.12" y1="297.23" x2="370.92" y2="297.23" stroke="#222" stroke-width="0.9" />
<rect x="372.15" y="309.24" width="5.25" height="4.16" fill="#a8072f" stroke="none" stroke-width="1"/>
<line x1="374.77" y1="309.24" x2="374.77" y2="307.16" stroke="#222" stroke-width="0.9" />
<line x1="373.38" y1="307.16" x2="376.17" y2="307.16" stroke="#222" stroke-width="0.9" />
<text x="371.95" y="323.70" font-size="8.4" fill="#111" stroke="#111" stroke-width="0.12" text-anchor="middle" font-weight="normal" font-style="normal" >&#8722;2k</text>
<rect x="384.40" y="271.82" width="5.25" height="41.58" fill="#6ea5d8" stroke="none" stroke-width="1"/>
<line x1="387.02" y1="271.82" x2="387.02" y2="270.43" stroke="#222" stroke-width="0.9" />
<line x1="385.62" y1="270.43" x2="388.42" y2="270.43" stroke="#222" stroke-width="0.9" />
<rect x="389.65" y="309.01" width="5.25" height="4.39" fill="#a8072f" stroke="none" stroke-width="1"/>
<line x1="392.27" y1="309.01" x2="392.27" y2="308.32" stroke="#222" stroke-width="0.9" />
<line x1="390.88" y1="308.32" x2="393.67" y2="308.32" stroke="#222" stroke-width="0.9" />
<text x="389.45" y="323.70" font-size="8.4" fill="#111" stroke="#111" stroke-width="0.12" text-anchor="middle" font-weight="normal" font-style="normal" >&#8722;1k</text>
<rect x="401.90" y="261.19" width="5.25" height="52.21" fill="#6ea5d8" stroke="none" stroke-width="1"/>
<line x1="404.52" y1="261.19" x2="404.52" y2="254.26" stroke="#222" stroke-width="0.9" />
<line x1="403.12" y1="254.26" x2="405.92" y2="254.26" stroke="#222" stroke-width="0.9" />
<rect x="407.15" y="306.93" width="5.25" height="6.47" fill="#a8072f" stroke="none" stroke-width="1"/>
<line x1="409.77" y1="306.93" x2="409.77" y2="304.39" stroke="#222" stroke-width="0.9" />
<line x1="408.38" y1="304.39" x2="411.17" y2="304.39" stroke="#222" stroke-width="0.9" />
<text x="406.95" y="323.70" font-size="8.4" fill="#111" stroke="#111" stroke-width="0.12" text-anchor="middle" font-weight="normal" font-style="normal" >TSS</text>
<rect x="419.40" y="261.19" width="5.25" height="52.21" fill="#6ea5d8" stroke="none" stroke-width="1"/>
<line x1="422.02" y1="261.19" x2="422.02" y2="257.96" stroke="#222" stroke-width="0.9" />
<line x1="420.62" y1="257.96" x2="423.42" y2="257.96" stroke="#222" stroke-width="0.9" />
<rect x="424.65" y="289.84" width="5.25" height="23.56" fill="#a8072f" stroke="none" stroke-width="1"/>
<line x1="427.27" y1="289.84" x2="427.27" y2="288.91" stroke="#222" stroke-width="0.9" />
<line x1="425.88" y1="288.91" x2="428.67" y2="288.91" stroke="#222" stroke-width="0.9" />
<text x="424.45" y="323.70" font-size="8.4" fill="#111" stroke="#111" stroke-width="0.12" text-anchor="middle" font-weight="normal" font-style="normal" >+1k</text>
<rect x="436.90" y="264.89" width="5.25" height="48.51" fill="#6ea5d8" stroke="none" stroke-width="1"/>
<line x1="439.52" y1="264.89" x2="439.52" y2="258.88" stroke="#222" stroke-width="0.9" />
<line x1="438.12" y1="258.88" x2="440.92" y2="258.88" stroke="#222" stroke-width="0.9" />
<rect x="442.15" y="308.55" width="5.25" height="4.85" fill="#a8072f" stroke="none" stroke-width="1"/>
<line x1="444.77" y1="308.55" x2="444.77" y2="306.01" stroke="#222" stroke-width="0.9" />
<line x1="443.38" y1="306.01" x2="446.17" y2="306.01" stroke="#222" stroke-width="0.9" />
<text x="441.95" y="323.70" font-size="8.4" fill="#111" stroke="#111" stroke-width="0.12" text-anchor="middle" font-weight="normal" font-style="normal" >+2k</text>
<rect x="454.40" y="302.31" width="5.25" height="11.09" fill="#6ea5d8" stroke="none" stroke-width="1"/>
<line x1="457.02" y1="302.31" x2="457.02" y2="299.54" stroke="#222" stroke-width="0.9" />
<line x1="455.62" y1="299.54" x2="458.42" y2="299.54" stroke="#222" stroke-width="0.9" />
<rect x="459.65" y="307.39" width="5.25" height="6.01" fill="#a8072f" stroke="none" stroke-width="1"/>
<line x1="462.27" y1="307.39" x2="462.27" y2="305.68" stroke="#222" stroke-width="0.9" />
<line x1="460.88" y1="305.68" x2="463.67" y2="305.68" stroke="#222" stroke-width="0.9" />
<text x="459.45" y="323.70" font-size="8.4" fill="#111" stroke="#111" stroke-width="0.12" text-anchor="middle" font-weight="normal" font-style="normal" >+4k</text>
<polyline points="369.50,291.70 369.50,286.90 374.80,286.90 374.80,306.80" fill="none" stroke="#000" stroke-width="1.1" stroke-linejoin="miter"/>
<circle cx="370.00" cy="281.10" r="1.35" fill="#000"/>
<circle cx="374.30" cy="281.10" r="1.35" fill="#000"/>
<polyline points="387.00,268.00 387.00,262.60 392.30,262.60 392.30,305.30" fill="none" stroke="#000" stroke-width="1.1" stroke-linejoin="miter"/>
<circle cx="387.50" cy="256.80" r="1.35" fill="#000"/>
<circle cx="391.80" cy="256.80" r="1.35" fill="#000"/>
<polyline points="404.50,250.20 404.50,246.20 409.80,246.20 409.80,297.00" fill="none" stroke="#000" stroke-width="1.1" stroke-linejoin="miter"/>
<circle cx="405.00" cy="240.40" r="1.35" fill="#000"/>
<circle cx="409.30" cy="240.40" r="1.35" fill="#000"/>
<polyline points="422.00,252.40 422.00,248.20 427.30,248.20 427.30,287.00" fill="none" stroke="#000" stroke-width="1.1" stroke-linejoin="miter"/>
<circle cx="422.50" cy="242.40" r="1.35" fill="#000"/>
<circle cx="426.80" cy="242.40" r="1.35" fill="#000"/>
<polyline points="439.50,253.20 439.50,249.30 444.80,249.30 444.80,297.50" fill="none" stroke="#000" stroke-width="1.1" stroke-linejoin="miter"/>
<circle cx="440.00" cy="243.50" r="1.35" fill="#000"/>
<circle cx="444.30" cy="243.50" r="1.35" fill="#000"/>
<polyline points="457.00,296.50 457.00,292.40 462.30,292.40 462.30,301.10" fill="none" stroke="#000" stroke-width="1.1" stroke-linejoin="miter"/>
<circle cx="457.50" cy="286.60" r="1.35" fill="#000"/>
<circle cx="461.80" cy="286.60" r="1.35" fill="#000"/>
<text transform="translate(339.90,280.00) rotate(-90)" font-size="9.4" fill="#111" stroke="#111" stroke-width="0.12" text-anchor="middle" font-weight="normal" font-style="normal">% input (H3K9me3)</text>
<text x="415.9" y="232.30" font-size="9" text-anchor="middle" font-weight="bold"><tspan font-style="italic">Fbp2</tspan> <tspan font-weight="normal">(GMP)</tspan></text>
<line x1="363.20" y1="367.00" x2="363.20" y2="435.00" stroke="#000" stroke-width="1.1" />
<line x1="363.20" y1="434.50" x2="467.70" y2="434.50" stroke="#000" stroke-width="1.1" />
<line x1="360.60" y1="434.50" x2="363.20" y2="434.50" stroke="#000" stroke-width="1" />
<text transform="translate(356.00,437.50) scale(0.88,1)" font-size="8.6" fill="#111" stroke="#111" stroke-width="0.12" text-anchor="end" font-weight="normal" font-style="normal">0</text>
<line x1="360.60" y1="413.00" x2="363.20" y2="413.00" stroke="#000" stroke-width="1" />
<text transform="translate(356.00,416.00) scale(0.88,1)" font-size="8.6" fill="#111" stroke="#111" stroke-width="0.12" text-anchor="end" font-weight="normal" font-style="normal">5</text>
<line x1="360.60" y1="391.50" x2="363.20" y2="391.50" stroke="#000" stroke-width="1" />
<text transform="translate(356.00,394.50) scale(0.88,1)" font-size="8.6" fill="#111" stroke="#111" stroke-width="0.12" text-anchor="end" font-weight="normal" font-style="normal">10</text>
<line x1="360.60" y1="370.00" x2="363.20" y2="370.00" stroke="#000" stroke-width="1" />
<text transform="translate(356.00,373.00) scale(0.88,1)" font-size="8.6" fill="#111" stroke="#111" stroke-width="0.12" text-anchor="end" font-weight="normal" font-style="normal">15</text>
<rect x="366.90" y="411.71" width="5.25" height="22.79" fill="#6ea5d8" stroke="none" stroke-width="1"/>
<line x1="369.52" y1="411.71" x2="369.52" y2="408.70" stroke="#222" stroke-width="0.9" />
<line x1="368.12" y1="408.70" x2="370.92" y2="408.70" stroke="#222" stroke-width="0.9" />
<rect x="372.15" y="409.99" width="5.25" height="24.51" fill="#a8072f" stroke="none" stroke-width="1"/>
<line x1="374.77" y1="409.99" x2="374.77" y2="403.54" stroke="#222" stroke-width="0.9" />
<line x1="373.38" y1="403.54" x2="376.17" y2="403.54" stroke="#222" stroke-width="0.9" />
<text x="371.95" y="444.80" font-size="8.4" fill="#111" stroke="#111" stroke-width="0.12" text-anchor="middle" font-weight="normal" font-style="normal" >&#8722;2k</text>
<rect x="384.40" y="386.77" width="5.25" height="47.73" fill="#6ea5d8" stroke="none" stroke-width="1"/>
<line x1="387.02" y1="386.77" x2="387.02" y2="381.18" stroke="#222" stroke-width="0.9" />
<line x1="385.62" y1="381.18" x2="388.42" y2="381.18" stroke="#222" stroke-width="0.9" />
<rect x="389.65" y="413.43" width="5.25" height="21.07" fill="#a8072f" stroke="none" stroke-width="1"/>
<line x1="392.27" y1="413.43" x2="392.27" y2="407.84" stroke="#222" stroke-width="0.9" />
<line x1="390.88" y1="407.84" x2="393.67" y2="407.84" stroke="#222" stroke-width="0.9" />
<text x="389.45" y="444.80" font-size="8.4" fill="#111" stroke="#111" stroke-width="0.12" text-anchor="middle" font-weight="normal" font-style="normal" >&#8722;1k</text>
<rect x="401.90" y="377.31" width="5.25" height="57.19" fill="#6ea5d8" stroke="none" stroke-width="1"/>
<line x1="404.52" y1="377.31" x2="404.52" y2="370.86" stroke="#222" stroke-width="0.9" />
<line x1="403.12" y1="370.86" x2="405.92" y2="370.86" stroke="#222" stroke-width="0.9" />
<rect x="407.15" y="410.42" width="5.25" height="24.08" fill="#a8072f" stroke="none" stroke-width="1"/>
<line x1="409.77" y1="410.42" x2="409.77" y2="407.84" stroke="#222" stroke-width="0.9" />
<line x1="408.38" y1="407.84" x2="411.17" y2="407.84" stroke="#222" stroke-width="0.9" />
<text x="406.95" y="444.80" font-size="8.4" fill="#111" stroke="#111" stroke-width="0.12" text-anchor="middle" font-weight="normal" font-style="normal" >TSS</text>
<rect x="419.40" y="379.46" width="5.25" height="55.04" fill="#6ea5d8" stroke="none" stroke-width="1"/>
<line x1="422.02" y1="379.46" x2="422.02" y2="376.88" stroke="#222" stroke-width="0.9" />
<line x1="420.62" y1="376.88" x2="423.42" y2="376.88" stroke="#222" stroke-width="0.9" />
<rect x="424.65" y="386.77" width="5.25" height="47.73" fill="#a8072f" stroke="none" stroke-width="1"/>
<line x1="427.27" y1="386.77" x2="427.27" y2="375.16" stroke="#222" stroke-width="0.9" />
<line x1="425.88" y1="375.16" x2="428.67" y2="375.16" stroke="#222" stroke-width="0.9" />
<text x="424.45" y="444.80" font-size="8.4" fill="#111" stroke="#111" stroke-width="0.12" text-anchor="middle" font-weight="normal" font-style="normal" >+1k</text>
<rect x="436.90" y="383.33" width="5.25" height="51.17" fill="#6ea5d8" stroke="none" stroke-width="1"/>
<line x1="439.52" y1="383.33" x2="439.52" y2="381.18" stroke="#222" stroke-width="0.9" />
<line x1="438.12" y1="381.18" x2="440.92" y2="381.18" stroke="#222" stroke-width="0.9" />
<rect x="442.15" y="409.13" width="5.25" height="25.37" fill="#a8072f" stroke="none" stroke-width="1"/>
<line x1="444.77" y1="409.13" x2="444.77" y2="406.12" stroke="#222" stroke-width="0.9" />
<line x1="443.38" y1="406.12" x2="446.17" y2="406.12" stroke="#222" stroke-width="0.9" />
<text x="441.95" y="444.80" font-size="8.4" fill="#111" stroke="#111" stroke-width="0.12" text-anchor="middle" font-weight="normal" font-style="normal" >+2k</text>
<rect x="454.40" y="416.44" width="5.25" height="18.06" fill="#6ea5d8" stroke="none" stroke-width="1"/>
<line x1="457.02" y1="416.44" x2="457.02" y2="414.72" stroke="#222" stroke-width="0.9" />
<line x1="455.62" y1="414.72" x2="458.42" y2="414.72" stroke="#222" stroke-width="0.9" />
<rect x="459.65" y="415.58" width="5.25" height="18.92" fill="#a8072f" stroke="none" stroke-width="1"/>
<line x1="462.27" y1="415.58" x2="462.27" y2="413.86" stroke="#222" stroke-width="0.9" />
<line x1="460.88" y1="413.86" x2="463.67" y2="413.86" stroke="#222" stroke-width="0.9" />
<text x="459.45" y="444.80" font-size="8.4" fill="#111" stroke="#111" stroke-width="0.12" text-anchor="middle" font-weight="normal" font-style="normal" >+4k</text>
<polyline points="387.00,378.30 387.00,374.30 392.30,374.30 392.30,402.00" fill="none" stroke="#000" stroke-width="1.1" stroke-linejoin="miter"/>
<circle cx="389.65" cy="368.50" r="1.35" fill="#000"/>
<polyline points="404.50,367.50 404.50,363.30 409.80,363.30 409.80,404.10" fill="none" stroke="#000" stroke-width="1.1" stroke-linejoin="miter"/>
<circle cx="405.00" cy="357.50" r="1.35" fill="#000"/>
<circle cx="409.30" cy="357.50" r="1.35" fill="#000"/>
<polyline points="439.50,378.50 439.50,374.20 444.80,374.20 444.80,400.80" fill="none" stroke="#000" stroke-width="1.1" stroke-linejoin="miter"/>
<circle cx="442.15" cy="368.40" r="1.35" fill="#000"/>
<text transform="translate(339.90,401.25) rotate(-90)" font-size="9.4" fill="#111" stroke="#111" stroke-width="0.12" text-anchor="middle" font-weight="normal" font-style="normal">% input (H3K9me3)</text>
<text x="415.9" y="350.80" font-size="9" text-anchor="middle" font-weight="bold"><tspan font-style="italic">Fbp2</tspan> <tspan font-weight="normal">(LSK)</tspan></text>
<line x1="361.60" y1="554.70" x2="363.20" y2="554.70" stroke="#000" stroke-width="0.8" />
<line x1="361.60" y1="546.30" x2="363.20" y2="546.30" stroke="#000" stroke-width="0.8" />
<line x1="361.60" y1="537.90" x2="363.20" y2="537.90" stroke="#000" stroke-width="0.8" />
<line x1="361.60" y1="529.50" x2="363.20" y2="529.50" stroke="#000" stroke-width="0.8" />
<line x1="361.60" y1="521.10" x2="363.20" y2="521.10" stroke="#000" stroke-width="0.8" />
<line x1="361.60" y1="512.70" x2="363.20" y2="512.70" stroke="#000" stroke-width="0.8" />
<line x1="361.60" y1="504.30" x2="363.20" y2="504.30" stroke="#000" stroke-width="0.8" />
<line x1="361.60" y1="495.90" x2="363.20" y2="495.90" stroke="#000" stroke-width="0.8" />
<line x1="361.60" y1="487.50" x2="363.20" y2="487.50" stroke="#000" stroke-width="0.8" />
<line x1="363.20" y1="485.00" x2="363.20" y2="555.20" stroke="#000" stroke-width="1.1" />
<line x1="363.20" y1="554.70" x2="467.70" y2="554.70" stroke="#000" stroke-width="1.1" />
<line x1="360.60" y1="554.70" x2="363.20" y2="554.70" stroke="#000" stroke-width="1" />
<text transform="translate(356.00,557.70) scale(0.88,1)" font-size="8.6" fill="#111" stroke="#111" stroke-width="0.12" text-anchor="end" font-weight="normal" font-style="normal">0</text>
<line x1="360.60" y1="537.90" x2="363.20" y2="537.90" stroke="#000" stroke-width="1" />
<text transform="translate(356.00,540.90) scale(0.88,1)" font-size="8.6" fill="#111" stroke="#111" stroke-width="0.12" text-anchor="end" font-weight="normal" font-style="normal">0.4</text>
<line x1="360.60" y1="521.10" x2="363.20" y2="521.10" stroke="#000" stroke-width="1" />
<text transform="translate(356.00,524.10) scale(0.88,1)" font-size="8.6" fill="#111" stroke="#111" stroke-width="0.12" text-anchor="end" font-weight="normal" font-style="normal">0.8</text>
<line x1="360.60" y1="504.30" x2="363.20" y2="504.30" stroke="#000" stroke-width="1" />
<text transform="translate(356.00,507.30) scale(0.88,1)" font-size="8.6" fill="#111" stroke="#111" stroke-width="0.12" text-anchor="end" font-weight="normal" font-style="normal">1.2</text>
<line x1="360.60" y1="487.50" x2="363.20" y2="487.50" stroke="#000" stroke-width="1" />
<text transform="translate(356.00,490.50) scale(0.88,1)" font-size="8.6" fill="#111" stroke="#111" stroke-width="0.12" text-anchor="end" font-weight="normal" font-style="normal">1.6</text>
<rect x="366.90" y="542.10" width="5.25" height="12.60" fill="#6ea5d8" stroke="none" stroke-width="1"/>
<line x1="369.52" y1="542.10" x2="369.52" y2="535.80" stroke="#222" stroke-width="0.9" />
<line x1="368.12" y1="535.80" x2="370.92" y2="535.80" stroke="#222" stroke-width="0.9" />
<rect x="372.15" y="532.44" width="5.25" height="22.26" fill="#a8072f" stroke="none" stroke-width="1"/>
<line x1="374.77" y1="532.44" x2="374.77" y2="526.98" stroke="#222" stroke-width="0.9" />
<line x1="373.38" y1="526.98" x2="376.17" y2="526.98" stroke="#222" stroke-width="0.9" />
<text x="371.95" y="565.00" font-size="8.4" fill="#111" stroke="#111" stroke-width="0.12" text-anchor="middle" font-weight="normal" font-style="normal" >&#8722;2k</text>
<rect x="384.40" y="544.20" width="5.25" height="10.50" fill="#6ea5d8" stroke="none" stroke-width="1"/>
<line x1="387.02" y1="544.20" x2="387.02" y2="538.74" stroke="#222" stroke-width="0.9" />
<line x1="385.62" y1="538.74" x2="388.42" y2="538.74" stroke="#222" stroke-width="0.9" />
<rect x="389.65" y="519.84" width="5.25" height="34.86" fill="#a8072f" stroke="none" stroke-width="1"/>
<line x1="392.27" y1="519.84" x2="392.27" y2="518.16" stroke="#222" stroke-width="0.9" />
<line x1="390.88" y1="518.16" x2="393.67" y2="518.16" stroke="#222" stroke-width="0.9" />
<text x="389.45" y="565.00" font-size="8.4" fill="#111" stroke="#111" stroke-width="0.12" text-anchor="middle" font-weight="normal" font-style="normal" >&#8722;1k</text>
<rect x="401.90" y="540.00" width="5.25" height="14.70" fill="#6ea5d8" stroke="none" stroke-width="1"/>
<line x1="404.52" y1="540.00" x2="404.52" y2="536.22" stroke="#222" stroke-width="0.9" />
<line x1="403.12" y1="536.22" x2="405.92" y2="536.22" stroke="#222" stroke-width="0.9" />
<rect x="407.15" y="507.66" width="5.25" height="47.04" fill="#a8072f" stroke="none" stroke-width="1"/>
<line x1="409.77" y1="507.66" x2="409.77" y2="498.00" stroke="#222" stroke-width="0.9" />
<line x1="408.38" y1="498.00" x2="411.17" y2="498.00" stroke="#222" stroke-width="0.9" />
<text x="406.95" y="565.00" font-size="8.4" fill="#111" stroke="#111" stroke-width="0.12" text-anchor="middle" font-weight="normal" font-style="normal" >TSS</text>
<rect x="419.40" y="544.62" width="5.25" height="10.08" fill="#6ea5d8" stroke="none" stroke-width="1"/>
<line x1="422.02" y1="544.62" x2="422.02" y2="543.78" stroke="#222" stroke-width="0.9" />
<line x1="420.62" y1="543.78" x2="423.42" y2="543.78" stroke="#222" stroke-width="0.9" />
<rect x="424.65" y="536.22" width="5.25" height="18.48" fill="#a8072f" stroke="none" stroke-width="1"/>
<line x1="427.27" y1="536.22" x2="427.27" y2="535.38" stroke="#222" stroke-width="0.9" />
<line x1="425.88" y1="535.38" x2="428.67" y2="535.38" stroke="#222" stroke-width="0.9" />
<text x="424.45" y="565.00" font-size="8.4" fill="#111" stroke="#111" stroke-width="0.12" text-anchor="middle" font-weight="normal" font-style="normal" >+1k</text>
<rect x="436.90" y="544.20" width="5.25" height="10.50" fill="#6ea5d8" stroke="none" stroke-width="1"/>
<line x1="439.52" y1="544.20" x2="439.52" y2="540.42" stroke="#222" stroke-width="0.9" />
<line x1="438.12" y1="540.42" x2="440.92" y2="540.42" stroke="#222" stroke-width="0.9" />
<rect x="442.15" y="536.64" width="5.25" height="18.06" fill="#a8072f" stroke="none" stroke-width="1"/>
<line x1="444.77" y1="536.64" x2="444.77" y2="534.12" stroke="#222" stroke-width="0.9" />
<line x1="443.38" y1="534.12" x2="446.17" y2="534.12" stroke="#222" stroke-width="0.9" />
<text x="441.95" y="565.00" font-size="8.4" fill="#111" stroke="#111" stroke-width="0.12" text-anchor="middle" font-weight="normal" font-style="normal" >+2k</text>
<rect x="454.40" y="532.86" width="5.25" height="21.84" fill="#6ea5d8" stroke="none" stroke-width="1"/>
<line x1="457.02" y1="532.86" x2="457.02" y2="526.14" stroke="#222" stroke-width="0.9" />
<line x1="455.62" y1="526.14" x2="458.42" y2="526.14" stroke="#222" stroke-width="0.9" />
<rect x="459.65" y="530.76" width="5.25" height="23.94" fill="#a8072f" stroke="none" stroke-width="1"/>
<line x1="462.27" y1="530.76" x2="462.27" y2="523.62" stroke="#222" stroke-width="0.9" />
<line x1="460.88" y1="523.62" x2="463.67" y2="523.62" stroke="#222" stroke-width="0.9" />
<text x="459.45" y="565.00" font-size="8.4" fill="#111" stroke="#111" stroke-width="0.12" text-anchor="middle" font-weight="normal" font-style="normal" >+4k</text>
<polyline points="387.00,534.40 387.00,511.70 392.30,511.70 392.30,514.40" fill="none" stroke="#000" stroke-width="1.1" stroke-linejoin="miter"/>
<circle cx="387.50" cy="505.90" r="1.35" fill="#000"/>
<circle cx="391.80" cy="505.90" r="1.35" fill="#000"/>
<polyline points="404.50,529.40 404.50,490.90 409.80,490.90 409.80,494.40" fill="none" stroke="#000" stroke-width="1.1" stroke-linejoin="miter"/>
<circle cx="405.00" cy="485.10" r="1.35" fill="#000"/>
<circle cx="409.30" cy="485.10" r="1.35" fill="#000"/>
<polyline points="422.00,538.90 422.00,528.20 427.30,528.20 427.30,532.30" fill="none" stroke="#000" stroke-width="1.1" stroke-linejoin="miter"/>
<circle cx="422.50" cy="522.40" r="1.35" fill="#000"/>
<circle cx="426.80" cy="522.40" r="1.35" fill="#000"/>
<polyline points="439.50,539.20 439.50,528.20 444.80,528.20 444.80,533.80" fill="none" stroke="#000" stroke-width="1.1" stroke-linejoin="miter"/>
<circle cx="440.00" cy="522.40" r="1.35" fill="#000"/>
<circle cx="444.30" cy="522.40" r="1.35" fill="#000"/>
<text transform="translate(339.90,520.35) rotate(-90)" font-size="9.4" fill="#111" stroke="#111" stroke-width="0.12" text-anchor="middle" font-weight="normal" font-style="normal">% input (H3K9/14Ac)</text>
<text x="415.9" y="470.60" font-size="9" text-anchor="middle" font-weight="bold"><tspan font-style="italic">Fbp2</tspan> <tspan font-weight="normal">(GMP)</tspan></text>
<text x="7.40" y="573.90" font-size="12.2" fill="#000"  text-anchor="start" font-weight="bold" font-style="normal" >D</text>
<line x1="53.40" y1="683.75" x2="55.60" y2="683.75" stroke="#000" stroke-width="0.7" />
<line x1="53.40" y1="680.25" x2="55.60" y2="680.25" stroke="#000" stroke-width="0.7" />
<line x1="53.40" y1="676.75" x2="55.60" y2="676.75" stroke="#000" stroke-width="0.7" />
<line x1="53.40" y1="673.25" x2="55.60" y2="673.25" stroke="#000" stroke-width="0.7" />
<line x1="53.40" y1="669.75" x2="55.60" y2="669.75" stroke="#000" stroke-width="0.7" />
<line x1="53.40" y1="666.25" x2="55.60" y2="666.25" stroke="#000" stroke-width="0.7" />
<line x1="53.40" y1="662.75" x2="55.60" y2="662.75" stroke="#000" stroke-width="0.7" />
<line x1="53.40" y1="659.25" x2="55.60" y2="659.25" stroke="#000" stroke-width="0.7" />
<line x1="53.40" y1="655.75" x2="55.60" y2="655.75" stroke="#000" stroke-width="0.7" />
<line x1="53.40" y1="652.25" x2="55.60" y2="652.25" stroke="#000" stroke-width="0.7" />
<line x1="53.40" y1="648.75" x2="55.60" y2="648.75" stroke="#000" stroke-width="0.7" />
<line x1="53.40" y1="645.25" x2="55.60" y2="645.25" stroke="#000" stroke-width="0.7" />
<line x1="53.40" y1="641.75" x2="55.60" y2="641.75" stroke="#000" stroke-width="0.7" />
<line x1="53.40" y1="638.25" x2="55.60" y2="638.25" stroke="#000" stroke-width="0.7" />
<line x1="53.40" y1="634.75" x2="55.60" y2="634.75" stroke="#000" stroke-width="0.7" />
<line x1="53.40" y1="631.25" x2="55.60" y2="631.25" stroke="#000" stroke-width="0.7" />
<line x1="53.40" y1="627.75" x2="55.60" y2="627.75" stroke="#000" stroke-width="0.7" />
<line x1="53.40" y1="624.25" x2="55.60" y2="624.25" stroke="#000" stroke-width="0.7" />
<line x1="53.40" y1="620.75" x2="55.60" y2="620.75" stroke="#000" stroke-width="0.7" />
<line x1="53.40" y1="617.25" x2="55.60" y2="617.25" stroke="#000" stroke-width="0.7" />
<line x1="53.40" y1="613.75" x2="55.60" y2="613.75" stroke="#000" stroke-width="0.7" />
<line x1="53.40" y1="610.25" x2="55.60" y2="610.25" stroke="#000" stroke-width="0.7" />
<line x1="53.40" y1="606.75" x2="55.60" y2="606.75" stroke="#000" stroke-width="0.7" />
<line x1="53.40" y1="603.25" x2="55.60" y2="603.25" stroke="#000" stroke-width="0.7" />
<line x1="53.40" y1="599.75" x2="55.60" y2="599.75" stroke="#000" stroke-width="0.7" />
<line x1="53.40" y1="596.25" x2="55.60" y2="596.25" stroke="#000" stroke-width="0.7" />
<line x1="51.20" y1="683.75" x2="54.60" y2="683.75" stroke="#000" stroke-width="1" />
<text transform="translate(47.70,686.65) scale(0.93,1)" font-size="8.2" fill="#222" stroke="#222" stroke-width="0.12" text-anchor="end" font-weight="normal" font-style="normal">0</text>
<line x1="51.20" y1="666.25" x2="54.60" y2="666.25" stroke="#000" stroke-width="1" />
<text transform="translate(47.70,669.15) scale(0.93,1)" font-size="8.2" fill="#222" stroke="#222" stroke-width="0.12" text-anchor="end" font-weight="normal" font-style="normal">20</text>
<line x1="51.20" y1="648.75" x2="54.60" y2="648.75" stroke="#000" stroke-width="1" />
<text transform="translate(47.70,651.65) scale(0.93,1)" font-size="8.2" fill="#222" stroke="#222" stroke-width="0.12" text-anchor="end" font-weight="normal" font-style="normal">40</text>
<line x1="51.20" y1="631.25" x2="54.60" y2="631.25" stroke="#000" stroke-width="1" />
<text transform="translate(47.70,634.15) scale(0.93,1)" font-size="8.2" fill="#222" stroke="#222" stroke-width="0.12" text-anchor="end" font-weight="normal" font-style="normal">60</text>
<line x1="51.20" y1="613.75" x2="54.60" y2="613.75" stroke="#000" stroke-width="1" />
<text transform="translate(47.70,616.65) scale(0.93,1)" font-size="8.2" fill="#222" stroke="#222" stroke-width="0.12" text-anchor="end" font-weight="normal" font-style="normal">80</text>
<line x1="51.20" y1="596.25" x2="54.60" y2="596.25" stroke="#000" stroke-width="1" />
<text transform="translate(47.70,599.15) scale(0.93,1)" font-size="8.2" fill="#222" stroke="#222" stroke-width="0.12" text-anchor="end" font-weight="normal" font-style="normal">100</text>
<line x1="54.60" y1="683.75" x2="54.60" y2="686.95" stroke="#000" stroke-width="1" />
<line x1="61.37" y1="682.75" x2="61.37" y2="685.25" stroke="#000" stroke-width="0.7" />
<line x1="65.34" y1="682.75" x2="65.34" y2="685.25" stroke="#000" stroke-width="0.7" />
<line x1="68.15" y1="682.75" x2="68.15" y2="685.25" stroke="#000" stroke-width="0.7" />
<line x1="70.33" y1="682.75" x2="70.33" y2="685.25" stroke="#000" stroke-width="0.7" />
<line x1="72.11" y1="682.75" x2="72.11" y2="685.25" stroke="#000" stroke-width="0.7" />
<line x1="73.61" y1="682.75" x2="73.61" y2="685.25" stroke="#000" stroke-width="0.7" />
<line x1="74.92" y1="682.75" x2="74.92" y2="685.25" stroke="#000" stroke-width="0.7" />
<line x1="76.07" y1="682.75" x2="76.07" y2="685.25" stroke="#000" stroke-width="0.7" />
<text x="49.00" y="697.4" font-size="7.6" fill="#222">10<tspan font-size="5" dy="-3">0</tspan></text>
<line x1="77.10" y1="683.75" x2="77.10" y2="686.95" stroke="#000" stroke-width="1" />
<line x1="83.87" y1="682.75" x2="83.87" y2="685.25" stroke="#000" stroke-width="0.7" />
<line x1="87.84" y1="682.75" x2="87.84" y2="685.25" stroke="#000" stroke-width="0.7" />
<line x1="90.65" y1="682.75" x2="90.65" y2="685.25" stroke="#000" stroke-width="0.7" />
<line x1="92.83" y1="682.75" x2="92.83" y2="685.25" stroke="#000" stroke-width="0.7" />
<line x1="94.61" y1="682.75" x2="94.61" y2="685.25" stroke="#000" stroke-width="0.7" />
<line x1="96.11" y1="682.75" x2="96.11" y2="685.25" stroke="#000" stroke-width="0.7" />
<line x1="97.42" y1="682.75" x2="97.42" y2="685.25" stroke="#000" stroke-width="0.7" />
<line x1="98.57" y1="682.75" x2="98.57" y2="685.25" stroke="#000" stroke-width="0.7" />
<text x="71.50" y="697.4" font-size="7.6" fill="#222">10<tspan font-size="5" dy="-3">1</tspan></text>
<line x1="99.60" y1="683.75" x2="99.60" y2="686.95" stroke="#000" stroke-width="1" />
<line x1="106.37" y1="682.75" x2="106.37" y2="685.25" stroke="#000" stroke-width="0.7" />
<line x1="110.34" y1="682.75" x2="110.34" y2="685.25" stroke="#000" stroke-width="0.7" />
<line x1="113.15" y1="682.75" x2="113.15" y2="685.25" stroke="#000" stroke-width="0.7" />
<line x1="115.33" y1="682.75" x2="115.33" y2="685.25" stroke="#000" stroke-width="0.7" />
<line x1="117.11" y1="682.75" x2="117.11" y2="685.25" stroke="#000" stroke-width="0.7" />
<line x1="118.61" y1="682.75" x2="118.61" y2="685.25" stroke="#000" stroke-width="0.7" />
<line x1="119.92" y1="682.75" x2="119.92" y2="685.25" stroke="#000" stroke-width="0.7" />
<line x1="121.07" y1="682.75" x2="121.07" y2="685.25" stroke="#000" stroke-width="0.7" />
<text x="94.00" y="697.4" font-size="7.6" fill="#222">10<tspan font-size="5" dy="-3">2</tspan></text>
<line x1="122.10" y1="683.75" x2="122.10" y2="686.95" stroke="#000" stroke-width="1" />
<line x1="128.87" y1="682.75" x2="128.87" y2="685.25" stroke="#000" stroke-width="0.7" />
<line x1="132.84" y1="682.75" x2="132.84" y2="685.25" stroke="#000" stroke-width="0.7" />
<line x1="135.65" y1="682.75" x2="135.65" y2="685.25" stroke="#000" stroke-width="0.7" />
<line x1="137.83" y1="682.75" x2="137.83" y2="685.25" stroke="#000" stroke-width="0.7" />
<line x1="139.61" y1="682.75" x2="139.61" y2="685.25" stroke="#000" stroke-width="0.7" />
<line x1="141.11" y1="682.75" x2="141.11" y2="685.25" stroke="#000" stroke-width="0.7" />
<line x1="142.42" y1="682.75" x2="142.42" y2="685.25" stroke="#000" stroke-width="0.7" />
<line x1="143.57" y1="682.75" x2="143.57" y2="685.25" stroke="#000" stroke-width="0.7" />
<text x="116.50" y="697.4" font-size="7.6" fill="#222">10<tspan font-size="5" dy="-3">3</tspan></text>
<line x1="144.60" y1="683.75" x2="144.60" y2="686.95" stroke="#000" stroke-width="1" />
<text x="139.00" y="697.4" font-size="7.6" fill="#222">10<tspan font-size="5" dy="-3">4</tspan></text>
<polyline points="55.00,683.50 55.20,658.00 56.30,668.50 57.60,667.80 59.00,660.80 60.40,655.30 61.80,661.50 63.20,659.40 64.60,648.30 66.00,644.20 67.40,631.70 68.75,633.00 70.10,630.30 71.50,623.30 72.90,617.80 74.30,610.80 75.70,618.50 77.10,613.60 78.20,605.30 79.20,598.30 80.30,609.40 81.25,622.00 82.60,626.00 84.00,637.20 85.40,651.00 86.80,667.80 88.20,676.00 90.30,681.70 93.00,683.30" fill="none" stroke="#111" stroke-width="0.8" stroke-linejoin="round" />
<polyline points="55.00,683.50 55.30,674.70 56.25,681.00 59.70,682.40 63.90,681.00 68.00,680.30 72.20,681.00 75.70,680.30 78.50,677.50 80.50,675.00 83.30,674.70 86.10,672.00 88.90,667.00 91.70,662.20 94.40,653.90 95.00,648.30 96.40,638.60 97.80,626.10 99.20,617.80 100.60,614.30 101.90,615.00 103.30,609.40 104.40,601.10 105.40,597.60 106.40,602.50 107.50,601.10 108.60,606.70 110.00,610.80 111.00,613.60 111.70,619.20 113.00,631.70 114.40,645.50 115.80,651.00 117.20,660.80 118.60,669.20 120.00,676.10 121.40,679.60 122.80,681.70 124.20,683.20 127.00,683.50" fill="none" stroke="#8e0f3d" stroke-width="1.9" stroke-linejoin="round" />
<rect x="54.60" y="593.00" width="90.20" height="90.75" fill="none" stroke="#000" stroke-width="1.4"/>
<text x="100.00" y="587.70" font-size="9" fill="#000"  text-anchor="middle" font-weight="bold" font-style="normal" >LSK</text>
<text x="84.60" y="606.10" font-size="8.0" fill="#111" stroke="#111" stroke-width="0.12" text-anchor="start" font-weight="normal" font-style="normal" >WT</text>
<text x="118.00" y="606.9" font-size="7.9" fill="#8e2848" font-family="Liberation Serif, serif">&#916;/&#916;</text>
<text transform="translate(27.60,638.00) rotate(-90)" font-size="9.6" fill="#111" stroke="#111" stroke-width="0.12" text-anchor="middle" font-weight="normal" font-style="normal" textLength="38.5" lengthAdjust="spacingAndGlyphs">% of Max</text>
<text x="61.20" y="711.3" font-size="10.2" fill="#222" textLength="26.3" lengthAdjust="spacingAndGlyphs">Epcam</text>
<line x1="94.80" y1="707.60" x2="136.60" y2="707.60" stroke="#000" stroke-width="1.1" />
<polygon points="142.10,707.60 135.60,705.40 135.60,709.80" fill="#000" stroke="none" stroke-width="1"/>
<line x1="194.80" y1="683.75" x2="197.00" y2="683.75" stroke="#000" stroke-width="0.7" />
<line x1="194.80" y1="680.25" x2="197.00" y2="680.25" stroke="#000" stroke-width="0.7" />
<line x1="194.80" y1="676.75" x2="197.00" y2="676.75" stroke="#000" stroke-width="0.7" />
<line x1="194.80" y1="673.25" x2="197.00" y2="673.25" stroke="#000" stroke-width="0.7" />
<line x1="194.80" y1="669.75" x2="197.00" y2="669.75" stroke="#000" stroke-width="0.7" />
<line x1="194.80" y1="666.25" x2="197.00" y2="666.25" stroke="#000" stroke-width="0.7" />
<line x1="194.80" y1="662.75" x2="197.00" y2="662.75" stroke="#000" stroke-width="0.7" />
<line x1="194.80" y1="659.25" x2="197.00" y2="659.25" stroke="#000" stroke-width="0.7" />
<line x1="194.80" y1="655.75" x2="197.00" y2="655.75" stroke="#000" stroke-width="0.7" />
<line x1="194.80" y1="652.25" x2="197.00" y2="652.25" stroke="#000" stroke-width="0.7" />
<line x1="194.80" y1="648.75" x2="197.00" y2="648.75" stroke="#000" stroke-width="0.7" />
<line x1="194.80" y1="645.25" x2="197.00" y2="645.25" stroke="#000" stroke-width="0.7" />
<line x1="194.80" y1="641.75" x2="197.00" y2="641.75" stroke="#000" stroke-width="0.7" />
<line x1="194.80" y1="638.25" x2="197.00" y2="638.25" stroke="#000" stroke-width="0.7" />
<line x1="194.80" y1="634.75" x2="197.00" y2="634.75" stroke="#000" stroke-width="0.7" />
<line x1="194.80" y1="631.25" x2="197.00" y2="631.25" stroke="#000" stroke-width="0.7" />
<line x1="194.80" y1="627.75" x2="197.00" y2="627.75" stroke="#000" stroke-width="0.7" />
<line x1="194.80" y1="624.25" x2="197.00" y2="624.25" stroke="#000" stroke-width="0.7" />
<line x1="194.80" y1="620.75" x2="197.00" y2="620.75" stroke="#000" stroke-width="0.7" />
<line x1="194.80" y1="617.25" x2="197.00" y2="617.25" stroke="#000" stroke-width="0.7" />
<line x1="194.80" y1="613.75" x2="197.00" y2="613.75" stroke="#000" stroke-width="0.7" />
<line x1="194.80" y1="610.25" x2="197.00" y2="610.25" stroke="#000" stroke-width="0.7" />
<line x1="194.80" y1="606.75" x2="197.00" y2="606.75" stroke="#000" stroke-width="0.7" />
<line x1="194.80" y1="603.25" x2="197.00" y2="603.25" stroke="#000" stroke-width="0.7" />
<line x1="194.80" y1="599.75" x2="197.00" y2="599.75" stroke="#000" stroke-width="0.7" />
<line x1="194.80" y1="596.25" x2="197.00" y2="596.25" stroke="#000" stroke-width="0.7" />
<line x1="192.60" y1="683.75" x2="196.00" y2="683.75" stroke="#000" stroke-width="1" />
<text transform="translate(189.10,686.65) scale(0.93,1)" font-size="8.2" fill="#222" stroke="#222" stroke-width="0.12" text-anchor="end" font-weight="normal" font-style="normal">0</text>
<line x1="192.60" y1="666.25" x2="196.00" y2="666.25" stroke="#000" stroke-width="1" />
<text transform="translate(189.10,669.15) scale(0.93,1)" font-size="8.2" fill="#222" stroke="#222" stroke-width="0.12" text-anchor="end" font-weight="normal" font-style="normal">20</text>
<line x1="192.60" y1="648.75" x2="196.00" y2="648.75" stroke="#000" stroke-width="1" />
<text transform="translate(189.10,651.65) scale(0.93,1)" font-size="8.2" fill="#222" stroke="#222" stroke-width="0.12" text-anchor="end" font-weight="normal" font-style="normal">40</text>
<line x1="192.60" y1="631.25" x2="196.00" y2="631.25" stroke="#000" stroke-width="1" />
<text transform="translate(189.10,634.15) scale(0.93,1)" font-size="8.2" fill="#222" stroke="#222" stroke-width="0.12" text-anchor="end" font-weight="normal" font-style="normal">60</text>
<line x1="192.60" y1="613.75" x2="196.00" y2="613.75" stroke="#000" stroke-width="1" />
<text transform="translate(189.10,616.65) scale(0.93,1)" font-size="8.2" fill="#222" stroke="#222" stroke-width="0.12" text-anchor="end" font-weight="normal" font-style="normal">80</text>
<line x1="192.60" y1="596.25" x2="196.00" y2="596.25" stroke="#000" stroke-width="1" />
<text transform="translate(189.10,599.15) scale(0.93,1)" font-size="8.2" fill="#222" stroke="#222" stroke-width="0.12" text-anchor="end" font-weight="normal" font-style="normal">100</text>
<line x1="196.00" y1="683.75" x2="196.00" y2="686.95" stroke="#000" stroke-width="1" />
<line x1="202.77" y1="682.75" x2="202.77" y2="685.25" stroke="#000" stroke-width="0.7" />
<line x1="206.74" y1="682.75" x2="206.74" y2="685.25" stroke="#000" stroke-width="0.7" />
<line x1="209.55" y1="682.75" x2="209.55" y2="685.25" stroke="#000" stroke-width="0.7" />
<line x1="211.73" y1="682.75" x2="211.73" y2="685.25" stroke="#000" stroke-width="0.7" />
<line x1="213.51" y1="682.75" x2="213.51" y2="685.25" stroke="#000" stroke-width="0.7" />
<line x1="215.01" y1="682.75" x2="215.01" y2="685.25" stroke="#000" stroke-width="0.7" />
<line x1="216.32" y1="682.75" x2="216.32" y2="685.25" stroke="#000" stroke-width="0.7" />
<line x1="217.47" y1="682.75" x2="217.47" y2="685.25" stroke="#000" stroke-width="0.7" />
<text x="190.40" y="697.4" font-size="7.6" fill="#222">10<tspan font-size="5" dy="-3">0</tspan></text>
<line x1="218.50" y1="683.75" x2="218.50" y2="686.95" stroke="#000" stroke-width="1" />
<line x1="225.27" y1="682.75" x2="225.27" y2="685.25" stroke="#000" stroke-width="0.7" />
<line x1="229.24" y1="682.75" x2="229.24" y2="685.25" stroke="#000" stroke-width="0.7" />
<line x1="232.05" y1="682.75" x2="232.05" y2="685.25" stroke="#000" stroke-width="0.7" />
<line x1="234.23" y1="682.75" x2="234.23" y2="685.25" stroke="#000" stroke-width="0.7" />
<line x1="236.01" y1="682.75" x2="236.01" y2="685.25" stroke="#000" stroke-width="0.7" />
<line x1="237.51" y1="682.75" x2="237.51" y2="685.25" stroke="#000" stroke-width="0.7" />
<line x1="238.82" y1="682.75" x2="238.82" y2="685.25" stroke="#000" stroke-width="0.7" />
<line x1="239.97" y1="682.75" x2="239.97" y2="685.25" stroke="#000" stroke-width="0.7" />
<text x="212.90" y="697.4" font-size="7.6" fill="#222">10<tspan font-size="5" dy="-3">1</tspan></text>
<line x1="241.00" y1="683.75" x2="241.00" y2="686.95" stroke="#000" stroke-width="1" />
<line x1="247.77" y1="682.75" x2="247.77" y2="685.25" stroke="#000" stroke-width="0.7" />
<line x1="251.74" y1="682.75" x2="251.74" y2="685.25" stroke="#000" stroke-width="0.7" />
<line x1="254.55" y1="682.75" x2="254.55" y2="685.25" stroke="#000" stroke-width="0.7" />
<line x1="256.73" y1="682.75" x2="256.73" y2="685.25" stroke="#000" stroke-width="0.7" />
<line x1="258.51" y1="682.75" x2="258.51" y2="685.25" stroke="#000" stroke-width="0.7" />
<line x1="260.01" y1="682.75" x2="260.01" y2="685.25" stroke="#000" stroke-width="0.7" />
<line x1="261.32" y1="682.75" x2="261.32" y2="685.25" stroke="#000" stroke-width="0.7" />
<line x1="262.47" y1="682.75" x2="262.47" y2="685.25" stroke="#000" stroke-width="0.7" />
<text x="235.40" y="697.4" font-size="7.6" fill="#222">10<tspan font-size="5" dy="-3">2</tspan></text>
<line x1="263.50" y1="683.75" x2="263.50" y2="686.95" stroke="#000" stroke-width="1" />
<line x1="270.27" y1="682.75" x2="270.27" y2="685.25" stroke="#000" stroke-width="0.7" />
<line x1="274.24" y1="682.75" x2="274.24" y2="685.25" stroke="#000" stroke-width="0.7" />
<line x1="277.05" y1="682.75" x2="277.05" y2="685.25" stroke="#000" stroke-width="0.7" />
<line x1="279.23" y1="682.75" x2="279.23" y2="685.25" stroke="#000" stroke-width="0.7" />
<line x1="281.01" y1="682.75" x2="281.01" y2="685.25" stroke="#000" stroke-width="0.7" />
<line x1="282.51" y1="682.75" x2="282.51" y2="685.25" stroke="#000" stroke-width="0.7" />
<line x1="283.82" y1="682.75" x2="283.82" y2="685.25" stroke="#000" stroke-width="0.7" />
<line x1="284.97" y1="682.75" x2="284.97" y2="685.25" stroke="#000" stroke-width="0.7" />
<text x="257.90" y="697.4" font-size="7.6" fill="#222">10<tspan font-size="5" dy="-3">3</tspan></text>
<line x1="286.00" y1="683.75" x2="286.00" y2="686.95" stroke="#000" stroke-width="1" />
<text x="280.40" y="697.4" font-size="7.6" fill="#222">10<tspan font-size="5" dy="-3">4</tspan></text>
<polyline points="196.30,683.50 196.50,669.20 197.60,665.70 199.60,665.00 201.00,666.40 202.40,656.70 203.10,651.10 204.50,653.90 205.90,651.10 207.30,645.50 209.40,641.40 211.40,634.40 212.80,633.75 214.20,626.10 215.60,621.90 216.70,610.80 217.30,599.70 218.40,603.20 219.10,599.70 220.20,610.80 221.20,620.60 222.30,627.50 223.25,634.40 224.20,644.20 225.30,651.10 226.70,662.20 228.40,672.00 230.90,680.30 233.70,683.30 236.00,683.50" fill="none" stroke="#111" stroke-width="0.8" stroke-linejoin="round" />
<polyline points="212.80,683.30 215.60,682.40 217.70,681.00 219.80,680.30 221.90,679.60 224.00,680.30 226.00,678.90 228.10,675.40 230.20,672.00 232.30,667.80 234.40,662.20 236.40,656.70 237.80,651.10 238.40,651.10 239.10,644.20 240.50,641.40 241.40,633.00 242.60,630.30 243.90,626.10 245.00,617.80 246.00,609.40 247.00,599.00 248.10,603.90 249.20,599.00 250.20,616.40 251.20,610.80 252.30,622.00 253.40,637.20 254.40,635.80 255.75,631.00 256.70,641.40 257.80,652.50 259.20,663.60 260.60,672.00 262.70,677.50 264.80,682.40 266.90,683.30 270.00,683.50" fill="none" stroke="#8e0f3d" stroke-width="1.9" stroke-linejoin="round" />
<rect x="196.00" y="593.00" width="90.20" height="90.75" fill="none" stroke="#000" stroke-width="1.4"/>
<text x="241.40" y="587.70" font-size="9" fill="#000"  text-anchor="middle" font-weight="bold" font-style="normal" >GMP</text>
<text x="227.00" y="606.10" font-size="8.0" fill="#111" stroke="#111" stroke-width="0.12" text-anchor="start" font-weight="normal" font-style="normal" >WT</text>
<text x="259.70" y="606.9" font-size="7.9" fill="#8e2848" font-family="Liberation Serif, serif">&#916;/&#916;</text>
<text transform="translate(169.00,638.00) rotate(-90)" font-size="9.6" fill="#111" stroke="#111" stroke-width="0.12" text-anchor="middle" font-weight="normal" font-style="normal" textLength="38.5" lengthAdjust="spacingAndGlyphs">% of Max</text>
<text x="202.60" y="711.3" font-size="10.2" fill="#222" textLength="26.3" lengthAdjust="spacingAndGlyphs">Epcam</text>
<line x1="236.20" y1="707.60" x2="278.00" y2="707.60" stroke="#000" stroke-width="1.1" />
<polygon points="283.50,707.60 277.00,705.40 277.00,709.80" fill="#000" stroke="none" stroke-width="1"/>
</svg>
<div class="frame"></div>
</body></html>
